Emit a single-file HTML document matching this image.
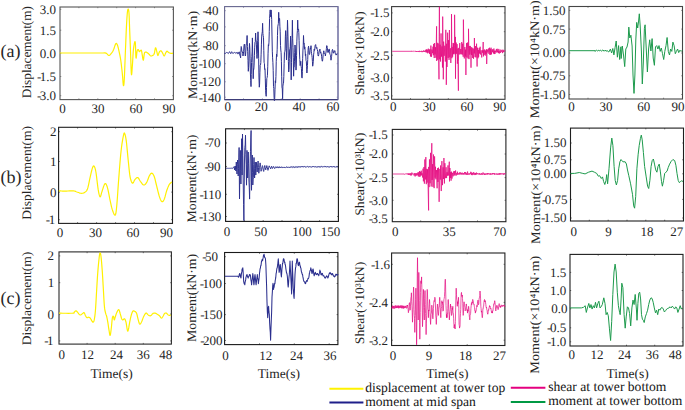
<!DOCTYPE html>
<html><head><meta charset="utf-8"><style>
html,body{margin:0;padding:0;background:#fff;}
body{width:685px;height:410px;overflow:hidden;}
svg{display:block;font-family:"Liberation Serif", serif;text-rendering:geometricPrecision;}
</style></head><body>
<svg width="685" height="410" viewBox="0 0 685 410" xmlns="http://www.w3.org/2000/svg">
<rect width="685" height="410" fill="#fff"/>
<line x1="78.9" y1="99.6" x2="78.9" y2="98.3" stroke="#555" stroke-width="0.6"/>
<line x1="78.9" y1="7.0" x2="78.9" y2="8.2" stroke="#555" stroke-width="0.6"/>
<line x1="97.8" y1="99.6" x2="97.8" y2="98.3" stroke="#555" stroke-width="0.6"/>
<line x1="97.8" y1="7.0" x2="97.8" y2="8.2" stroke="#555" stroke-width="0.6"/>
<line x1="116.7" y1="99.6" x2="116.7" y2="98.3" stroke="#555" stroke-width="0.6"/>
<line x1="116.7" y1="7.0" x2="116.7" y2="8.2" stroke="#555" stroke-width="0.6"/>
<line x1="135.6" y1="99.6" x2="135.6" y2="98.3" stroke="#555" stroke-width="0.6"/>
<line x1="135.6" y1="7.0" x2="135.6" y2="8.2" stroke="#555" stroke-width="0.6"/>
<line x1="154.5" y1="99.6" x2="154.5" y2="98.3" stroke="#555" stroke-width="0.6"/>
<line x1="154.5" y1="7.0" x2="154.5" y2="8.2" stroke="#555" stroke-width="0.6"/>
<line x1="60.0" y1="9.4" x2="61.3" y2="9.4" stroke="#555" stroke-width="0.6"/>
<line x1="173.4" y1="9.4" x2="172.1" y2="9.4" stroke="#555" stroke-width="0.6"/>
<line x1="60.0" y1="30.2" x2="61.3" y2="30.2" stroke="#555" stroke-width="0.6"/>
<line x1="173.4" y1="30.2" x2="172.1" y2="30.2" stroke="#555" stroke-width="0.6"/>
<line x1="60.0" y1="53.4" x2="61.3" y2="53.4" stroke="#555" stroke-width="0.6"/>
<line x1="173.4" y1="53.4" x2="172.1" y2="53.4" stroke="#555" stroke-width="0.6"/>
<line x1="60.0" y1="76.5" x2="61.3" y2="76.5" stroke="#555" stroke-width="0.6"/>
<line x1="173.4" y1="76.5" x2="172.1" y2="76.5" stroke="#555" stroke-width="0.6"/>
<line x1="60.0" y1="95.7" x2="61.3" y2="95.7" stroke="#555" stroke-width="0.6"/>
<line x1="173.4" y1="95.7" x2="172.1" y2="95.7" stroke="#555" stroke-width="0.6"/>
<rect x="60.0" y="7.0" width="113.4" height="92.6" fill="none" stroke="#555" stroke-width="1.1"/>
<line x1="243.5" y1="99.6" x2="243.5" y2="98.3" stroke="#66668f" stroke-width="0.6"/>
<line x1="243.5" y1="6.6" x2="243.5" y2="7.9" stroke="#66668f" stroke-width="0.6"/>
<line x1="262.4" y1="99.6" x2="262.4" y2="98.3" stroke="#66668f" stroke-width="0.6"/>
<line x1="262.4" y1="6.6" x2="262.4" y2="7.9" stroke="#66668f" stroke-width="0.6"/>
<line x1="281.3" y1="99.6" x2="281.3" y2="98.3" stroke="#66668f" stroke-width="0.6"/>
<line x1="281.3" y1="6.6" x2="281.3" y2="7.9" stroke="#66668f" stroke-width="0.6"/>
<line x1="300.2" y1="99.6" x2="300.2" y2="98.3" stroke="#66668f" stroke-width="0.6"/>
<line x1="300.2" y1="6.6" x2="300.2" y2="7.9" stroke="#66668f" stroke-width="0.6"/>
<line x1="319.1" y1="99.6" x2="319.1" y2="98.3" stroke="#66668f" stroke-width="0.6"/>
<line x1="319.1" y1="6.6" x2="319.1" y2="7.9" stroke="#66668f" stroke-width="0.6"/>
<line x1="224.6" y1="10.7" x2="225.9" y2="10.7" stroke="#66668f" stroke-width="0.6"/>
<line x1="338.0" y1="10.7" x2="336.7" y2="10.7" stroke="#66668f" stroke-width="0.6"/>
<line x1="224.6" y1="26.9" x2="225.9" y2="26.9" stroke="#66668f" stroke-width="0.6"/>
<line x1="338.0" y1="26.9" x2="336.7" y2="26.9" stroke="#66668f" stroke-width="0.6"/>
<line x1="224.6" y1="45.7" x2="225.9" y2="45.7" stroke="#66668f" stroke-width="0.6"/>
<line x1="338.0" y1="45.7" x2="336.7" y2="45.7" stroke="#66668f" stroke-width="0.6"/>
<line x1="224.6" y1="63.7" x2="225.9" y2="63.7" stroke="#66668f" stroke-width="0.6"/>
<line x1="338.0" y1="63.7" x2="336.7" y2="63.7" stroke="#66668f" stroke-width="0.6"/>
<line x1="224.6" y1="81.8" x2="225.9" y2="81.8" stroke="#66668f" stroke-width="0.6"/>
<line x1="338.0" y1="81.8" x2="336.7" y2="81.8" stroke="#66668f" stroke-width="0.6"/>
<line x1="224.6" y1="97.2" x2="225.9" y2="97.2" stroke="#66668f" stroke-width="0.6"/>
<line x1="338.0" y1="97.2" x2="336.7" y2="97.2" stroke="#66668f" stroke-width="0.6"/>
<rect x="224.6" y="6.6" width="113.4" height="93.0" fill="none" stroke="#66668f" stroke-width="1.1"/>
<line x1="410.5" y1="99.3" x2="410.5" y2="98.0" stroke="#3a3a3a" stroke-width="0.6"/>
<line x1="410.5" y1="6.6" x2="410.5" y2="7.9" stroke="#3a3a3a" stroke-width="0.6"/>
<line x1="429.4" y1="99.3" x2="429.4" y2="98.0" stroke="#3a3a3a" stroke-width="0.6"/>
<line x1="429.4" y1="6.6" x2="429.4" y2="7.9" stroke="#3a3a3a" stroke-width="0.6"/>
<line x1="448.3" y1="99.3" x2="448.3" y2="98.0" stroke="#3a3a3a" stroke-width="0.6"/>
<line x1="448.3" y1="6.6" x2="448.3" y2="7.9" stroke="#3a3a3a" stroke-width="0.6"/>
<line x1="467.2" y1="99.3" x2="467.2" y2="98.0" stroke="#3a3a3a" stroke-width="0.6"/>
<line x1="467.2" y1="6.6" x2="467.2" y2="7.9" stroke="#3a3a3a" stroke-width="0.6"/>
<line x1="486.1" y1="99.3" x2="486.1" y2="98.0" stroke="#3a3a3a" stroke-width="0.6"/>
<line x1="486.1" y1="6.6" x2="486.1" y2="7.9" stroke="#3a3a3a" stroke-width="0.6"/>
<line x1="391.6" y1="12.9" x2="392.9" y2="12.9" stroke="#3a3a3a" stroke-width="0.6"/>
<line x1="505.1" y1="12.9" x2="503.8" y2="12.9" stroke="#3a3a3a" stroke-width="0.6"/>
<line x1="391.6" y1="31.7" x2="392.9" y2="31.7" stroke="#3a3a3a" stroke-width="0.6"/>
<line x1="505.1" y1="31.7" x2="503.8" y2="31.7" stroke="#3a3a3a" stroke-width="0.6"/>
<line x1="391.6" y1="55.2" x2="392.9" y2="55.2" stroke="#3a3a3a" stroke-width="0.6"/>
<line x1="505.1" y1="55.2" x2="503.8" y2="55.2" stroke="#3a3a3a" stroke-width="0.6"/>
<line x1="391.6" y1="77.8" x2="392.9" y2="77.8" stroke="#3a3a3a" stroke-width="0.6"/>
<line x1="505.1" y1="77.8" x2="503.8" y2="77.8" stroke="#3a3a3a" stroke-width="0.6"/>
<line x1="391.6" y1="95.9" x2="392.9" y2="95.9" stroke="#3a3a3a" stroke-width="0.6"/>
<line x1="505.1" y1="95.9" x2="503.8" y2="95.9" stroke="#3a3a3a" stroke-width="0.6"/>
<rect x="391.6" y="6.6" width="113.4" height="92.7" fill="none" stroke="#3a3a3a" stroke-width="1.1"/>
<line x1="588.0" y1="99.0" x2="588.0" y2="97.7" stroke="#454545" stroke-width="0.6"/>
<line x1="588.0" y1="6.5" x2="588.0" y2="7.8" stroke="#454545" stroke-width="0.6"/>
<line x1="606.9" y1="99.0" x2="606.9" y2="97.7" stroke="#454545" stroke-width="0.6"/>
<line x1="606.9" y1="6.5" x2="606.9" y2="7.8" stroke="#454545" stroke-width="0.6"/>
<line x1="625.8" y1="99.0" x2="625.8" y2="97.7" stroke="#454545" stroke-width="0.6"/>
<line x1="625.8" y1="6.5" x2="625.8" y2="7.8" stroke="#454545" stroke-width="0.6"/>
<line x1="644.7" y1="99.0" x2="644.7" y2="97.7" stroke="#454545" stroke-width="0.6"/>
<line x1="644.7" y1="6.5" x2="644.7" y2="7.8" stroke="#454545" stroke-width="0.6"/>
<line x1="663.6" y1="99.0" x2="663.6" y2="97.7" stroke="#454545" stroke-width="0.6"/>
<line x1="663.6" y1="6.5" x2="663.6" y2="7.8" stroke="#454545" stroke-width="0.6"/>
<line x1="569.0" y1="10.4" x2="570.3" y2="10.4" stroke="#454545" stroke-width="0.6"/>
<line x1="682.5" y1="10.4" x2="681.2" y2="10.4" stroke="#454545" stroke-width="0.6"/>
<line x1="569.0" y1="29.1" x2="570.3" y2="29.1" stroke="#454545" stroke-width="0.6"/>
<line x1="682.5" y1="29.1" x2="681.2" y2="29.1" stroke="#454545" stroke-width="0.6"/>
<line x1="569.0" y1="53.0" x2="570.3" y2="53.0" stroke="#454545" stroke-width="0.6"/>
<line x1="682.5" y1="53.0" x2="681.2" y2="53.0" stroke="#454545" stroke-width="0.6"/>
<line x1="569.0" y1="75.8" x2="570.3" y2="75.8" stroke="#454545" stroke-width="0.6"/>
<line x1="682.5" y1="75.8" x2="681.2" y2="75.8" stroke="#454545" stroke-width="0.6"/>
<line x1="569.0" y1="94.5" x2="570.3" y2="94.5" stroke="#454545" stroke-width="0.6"/>
<line x1="682.5" y1="94.5" x2="681.2" y2="94.5" stroke="#454545" stroke-width="0.6"/>
<rect x="569.0" y="6.5" width="113.5" height="92.5" fill="none" stroke="#454545" stroke-width="1.1"/>
<line x1="77.6" y1="223.4" x2="77.6" y2="222.1" stroke="#1e1e1e" stroke-width="0.6"/>
<line x1="77.6" y1="127.3" x2="77.6" y2="128.6" stroke="#1e1e1e" stroke-width="0.6"/>
<line x1="96.6" y1="223.4" x2="96.6" y2="222.1" stroke="#1e1e1e" stroke-width="0.6"/>
<line x1="96.6" y1="127.3" x2="96.6" y2="128.6" stroke="#1e1e1e" stroke-width="0.6"/>
<line x1="115.6" y1="223.4" x2="115.6" y2="222.1" stroke="#1e1e1e" stroke-width="0.6"/>
<line x1="115.6" y1="127.3" x2="115.6" y2="128.6" stroke="#1e1e1e" stroke-width="0.6"/>
<line x1="134.5" y1="223.4" x2="134.5" y2="222.1" stroke="#1e1e1e" stroke-width="0.6"/>
<line x1="134.5" y1="127.3" x2="134.5" y2="128.6" stroke="#1e1e1e" stroke-width="0.6"/>
<line x1="153.5" y1="223.4" x2="153.5" y2="222.1" stroke="#1e1e1e" stroke-width="0.6"/>
<line x1="153.5" y1="127.3" x2="153.5" y2="128.6" stroke="#1e1e1e" stroke-width="0.6"/>
<line x1="58.6" y1="131.7" x2="59.9" y2="131.7" stroke="#1e1e1e" stroke-width="0.6"/>
<line x1="172.5" y1="131.7" x2="171.2" y2="131.7" stroke="#1e1e1e" stroke-width="0.6"/>
<line x1="58.6" y1="161.5" x2="59.9" y2="161.5" stroke="#1e1e1e" stroke-width="0.6"/>
<line x1="172.5" y1="161.5" x2="171.2" y2="161.5" stroke="#1e1e1e" stroke-width="0.6"/>
<line x1="58.6" y1="192.1" x2="59.9" y2="192.1" stroke="#1e1e1e" stroke-width="0.6"/>
<line x1="172.5" y1="192.1" x2="171.2" y2="192.1" stroke="#1e1e1e" stroke-width="0.6"/>
<line x1="58.6" y1="219.7" x2="59.9" y2="219.7" stroke="#1e1e1e" stroke-width="0.6"/>
<line x1="172.5" y1="219.7" x2="171.2" y2="219.7" stroke="#1e1e1e" stroke-width="0.6"/>
<rect x="58.6" y="127.3" width="113.9" height="96.1" fill="none" stroke="#1e1e1e" stroke-width="1.1"/>
<line x1="244.4" y1="221.4" x2="244.4" y2="220.1" stroke="#141414" stroke-width="0.6"/>
<line x1="244.4" y1="128.8" x2="244.4" y2="130.1" stroke="#141414" stroke-width="0.6"/>
<line x1="263.2" y1="221.4" x2="263.2" y2="220.1" stroke="#141414" stroke-width="0.6"/>
<line x1="263.2" y1="128.8" x2="263.2" y2="130.1" stroke="#141414" stroke-width="0.6"/>
<line x1="282.0" y1="221.4" x2="282.0" y2="220.1" stroke="#141414" stroke-width="0.6"/>
<line x1="282.0" y1="128.8" x2="282.0" y2="130.1" stroke="#141414" stroke-width="0.6"/>
<line x1="300.8" y1="221.4" x2="300.8" y2="220.1" stroke="#141414" stroke-width="0.6"/>
<line x1="300.8" y1="128.8" x2="300.8" y2="130.1" stroke="#141414" stroke-width="0.6"/>
<line x1="319.6" y1="221.4" x2="319.6" y2="220.1" stroke="#141414" stroke-width="0.6"/>
<line x1="319.6" y1="128.8" x2="319.6" y2="130.1" stroke="#141414" stroke-width="0.6"/>
<line x1="225.6" y1="143.0" x2="226.9" y2="143.0" stroke="#141414" stroke-width="0.6"/>
<line x1="338.4" y1="143.0" x2="337.1" y2="143.0" stroke="#141414" stroke-width="0.6"/>
<line x1="225.6" y1="166.5" x2="226.9" y2="166.5" stroke="#141414" stroke-width="0.6"/>
<line x1="338.4" y1="166.5" x2="337.1" y2="166.5" stroke="#141414" stroke-width="0.6"/>
<line x1="225.6" y1="194.3" x2="226.9" y2="194.3" stroke="#141414" stroke-width="0.6"/>
<line x1="338.4" y1="194.3" x2="337.1" y2="194.3" stroke="#141414" stroke-width="0.6"/>
<line x1="225.6" y1="216.5" x2="226.9" y2="216.5" stroke="#141414" stroke-width="0.6"/>
<line x1="338.4" y1="216.5" x2="337.1" y2="216.5" stroke="#141414" stroke-width="0.6"/>
<rect x="225.6" y="128.8" width="112.8" height="92.6" fill="none" stroke="#141414" stroke-width="1.1"/>
<line x1="420.7" y1="221.7" x2="420.7" y2="220.4" stroke="#222" stroke-width="0.6"/>
<line x1="420.7" y1="129.4" x2="420.7" y2="130.7" stroke="#222" stroke-width="0.6"/>
<line x1="449.1" y1="221.7" x2="449.1" y2="220.4" stroke="#222" stroke-width="0.6"/>
<line x1="449.1" y1="129.4" x2="449.1" y2="130.7" stroke="#222" stroke-width="0.6"/>
<line x1="477.5" y1="221.7" x2="477.5" y2="220.4" stroke="#222" stroke-width="0.6"/>
<line x1="477.5" y1="129.4" x2="477.5" y2="130.7" stroke="#222" stroke-width="0.6"/>
<line x1="392.3" y1="135.0" x2="393.6" y2="135.0" stroke="#222" stroke-width="0.6"/>
<line x1="505.9" y1="135.0" x2="504.6" y2="135.0" stroke="#222" stroke-width="0.6"/>
<line x1="392.3" y1="154.0" x2="393.6" y2="154.0" stroke="#222" stroke-width="0.6"/>
<line x1="505.9" y1="154.0" x2="504.6" y2="154.0" stroke="#222" stroke-width="0.6"/>
<line x1="392.3" y1="177.6" x2="393.6" y2="177.6" stroke="#222" stroke-width="0.6"/>
<line x1="505.9" y1="177.6" x2="504.6" y2="177.6" stroke="#222" stroke-width="0.6"/>
<line x1="392.3" y1="200.3" x2="393.6" y2="200.3" stroke="#222" stroke-width="0.6"/>
<line x1="505.9" y1="200.3" x2="504.6" y2="200.3" stroke="#222" stroke-width="0.6"/>
<line x1="392.3" y1="218.2" x2="393.6" y2="218.2" stroke="#222" stroke-width="0.6"/>
<line x1="505.9" y1="218.2" x2="504.6" y2="218.2" stroke="#222" stroke-width="0.6"/>
<rect x="392.3" y="129.4" width="113.6" height="92.3" fill="none" stroke="#222" stroke-width="1.1"/>
<line x1="589.3" y1="221.0" x2="589.3" y2="219.7" stroke="#1e1e1e" stroke-width="0.6"/>
<line x1="589.3" y1="128.1" x2="589.3" y2="129.4" stroke="#1e1e1e" stroke-width="0.6"/>
<line x1="608.2" y1="221.0" x2="608.2" y2="219.7" stroke="#1e1e1e" stroke-width="0.6"/>
<line x1="608.2" y1="128.1" x2="608.2" y2="129.4" stroke="#1e1e1e" stroke-width="0.6"/>
<line x1="627.0" y1="221.0" x2="627.0" y2="219.7" stroke="#1e1e1e" stroke-width="0.6"/>
<line x1="627.0" y1="128.1" x2="627.0" y2="129.4" stroke="#1e1e1e" stroke-width="0.6"/>
<line x1="645.8" y1="221.0" x2="645.8" y2="219.7" stroke="#1e1e1e" stroke-width="0.6"/>
<line x1="645.8" y1="128.1" x2="645.8" y2="129.4" stroke="#1e1e1e" stroke-width="0.6"/>
<line x1="664.7" y1="221.0" x2="664.7" y2="219.7" stroke="#1e1e1e" stroke-width="0.6"/>
<line x1="664.7" y1="128.1" x2="664.7" y2="129.4" stroke="#1e1e1e" stroke-width="0.6"/>
<line x1="570.5" y1="143.0" x2="571.8" y2="143.0" stroke="#1e1e1e" stroke-width="0.6"/>
<line x1="683.5" y1="143.0" x2="682.2" y2="143.0" stroke="#1e1e1e" stroke-width="0.6"/>
<line x1="570.5" y1="159.8" x2="571.8" y2="159.8" stroke="#1e1e1e" stroke-width="0.6"/>
<line x1="683.5" y1="159.8" x2="682.2" y2="159.8" stroke="#1e1e1e" stroke-width="0.6"/>
<line x1="570.5" y1="173.8" x2="571.8" y2="173.8" stroke="#1e1e1e" stroke-width="0.6"/>
<line x1="683.5" y1="173.8" x2="682.2" y2="173.8" stroke="#1e1e1e" stroke-width="0.6"/>
<line x1="570.5" y1="199.4" x2="571.8" y2="199.4" stroke="#1e1e1e" stroke-width="0.6"/>
<line x1="683.5" y1="199.4" x2="682.2" y2="199.4" stroke="#1e1e1e" stroke-width="0.6"/>
<line x1="570.5" y1="218.0" x2="571.8" y2="218.0" stroke="#1e1e1e" stroke-width="0.6"/>
<line x1="683.5" y1="218.0" x2="682.2" y2="218.0" stroke="#1e1e1e" stroke-width="0.6"/>
<rect x="570.5" y="128.1" width="113.0" height="92.9" fill="none" stroke="#1e1e1e" stroke-width="1.1"/>
<line x1="87.1" y1="344.2" x2="87.1" y2="342.9" stroke="#2a2a2a" stroke-width="0.6"/>
<line x1="87.1" y1="251.9" x2="87.1" y2="253.2" stroke="#2a2a2a" stroke-width="0.6"/>
<line x1="115.2" y1="344.2" x2="115.2" y2="342.9" stroke="#2a2a2a" stroke-width="0.6"/>
<line x1="115.2" y1="251.9" x2="115.2" y2="253.2" stroke="#2a2a2a" stroke-width="0.6"/>
<line x1="143.3" y1="344.2" x2="143.3" y2="342.9" stroke="#2a2a2a" stroke-width="0.6"/>
<line x1="143.3" y1="251.9" x2="143.3" y2="253.2" stroke="#2a2a2a" stroke-width="0.6"/>
<line x1="59.0" y1="255.9" x2="60.3" y2="255.9" stroke="#2a2a2a" stroke-width="0.6"/>
<line x1="171.4" y1="255.9" x2="170.1" y2="255.9" stroke="#2a2a2a" stroke-width="0.6"/>
<line x1="59.0" y1="282.7" x2="60.3" y2="282.7" stroke="#2a2a2a" stroke-width="0.6"/>
<line x1="171.4" y1="282.7" x2="170.1" y2="282.7" stroke="#2a2a2a" stroke-width="0.6"/>
<line x1="59.0" y1="314.1" x2="60.3" y2="314.1" stroke="#2a2a2a" stroke-width="0.6"/>
<line x1="171.4" y1="314.1" x2="170.1" y2="314.1" stroke="#2a2a2a" stroke-width="0.6"/>
<line x1="59.0" y1="340.9" x2="60.3" y2="340.9" stroke="#2a2a2a" stroke-width="0.6"/>
<line x1="171.4" y1="340.9" x2="170.1" y2="340.9" stroke="#2a2a2a" stroke-width="0.6"/>
<rect x="59.0" y="251.9" width="112.4" height="92.2" fill="none" stroke="#2a2a2a" stroke-width="1.1"/>
<line x1="259.5" y1="344.6" x2="259.5" y2="343.3" stroke="#1a1a1a" stroke-width="0.6"/>
<line x1="259.5" y1="252.5" x2="259.5" y2="253.8" stroke="#1a1a1a" stroke-width="0.6"/>
<line x1="294.3" y1="344.6" x2="294.3" y2="343.3" stroke="#1a1a1a" stroke-width="0.6"/>
<line x1="294.3" y1="252.5" x2="294.3" y2="253.8" stroke="#1a1a1a" stroke-width="0.6"/>
<line x1="329.2" y1="344.6" x2="329.2" y2="343.3" stroke="#1a1a1a" stroke-width="0.6"/>
<line x1="329.2" y1="252.5" x2="329.2" y2="253.8" stroke="#1a1a1a" stroke-width="0.6"/>
<line x1="224.6" y1="256.7" x2="225.9" y2="256.7" stroke="#1a1a1a" stroke-width="0.6"/>
<line x1="337.9" y1="256.7" x2="336.6" y2="256.7" stroke="#1a1a1a" stroke-width="0.6"/>
<line x1="224.6" y1="283.5" x2="225.9" y2="283.5" stroke="#1a1a1a" stroke-width="0.6"/>
<line x1="337.9" y1="283.5" x2="336.6" y2="283.5" stroke="#1a1a1a" stroke-width="0.6"/>
<line x1="224.6" y1="314.6" x2="225.9" y2="314.6" stroke="#1a1a1a" stroke-width="0.6"/>
<line x1="337.9" y1="314.6" x2="336.6" y2="314.6" stroke="#1a1a1a" stroke-width="0.6"/>
<line x1="224.6" y1="340.5" x2="225.9" y2="340.5" stroke="#1a1a1a" stroke-width="0.6"/>
<line x1="337.9" y1="340.5" x2="336.6" y2="340.5" stroke="#1a1a1a" stroke-width="0.6"/>
<rect x="224.6" y="252.5" width="113.3" height="92.1" fill="none" stroke="#1a1a1a" stroke-width="1.1"/>
<line x1="429.4" y1="345.5" x2="429.4" y2="344.2" stroke="#222" stroke-width="0.6"/>
<line x1="429.4" y1="253.0" x2="429.4" y2="254.3" stroke="#222" stroke-width="0.6"/>
<line x1="467.2" y1="345.5" x2="467.2" y2="344.2" stroke="#222" stroke-width="0.6"/>
<line x1="467.2" y1="253.0" x2="467.2" y2="254.3" stroke="#222" stroke-width="0.6"/>
<line x1="391.6" y1="264.3" x2="392.9" y2="264.3" stroke="#222" stroke-width="0.6"/>
<line x1="504.9" y1="264.3" x2="503.6" y2="264.3" stroke="#222" stroke-width="0.6"/>
<line x1="391.6" y1="302.4" x2="392.9" y2="302.4" stroke="#222" stroke-width="0.6"/>
<line x1="504.9" y1="302.4" x2="503.6" y2="302.4" stroke="#222" stroke-width="0.6"/>
<line x1="391.6" y1="340.2" x2="392.9" y2="340.2" stroke="#222" stroke-width="0.6"/>
<line x1="504.9" y1="340.2" x2="503.6" y2="340.2" stroke="#222" stroke-width="0.6"/>
<rect x="391.6" y="253.0" width="113.3" height="92.5" fill="none" stroke="#222" stroke-width="1.1"/>
<line x1="598.2" y1="346.0" x2="598.2" y2="344.7" stroke="#1e1e1e" stroke-width="0.6"/>
<line x1="598.2" y1="254.4" x2="598.2" y2="255.7" stroke="#1e1e1e" stroke-width="0.6"/>
<line x1="626.5" y1="346.0" x2="626.5" y2="344.7" stroke="#1e1e1e" stroke-width="0.6"/>
<line x1="626.5" y1="254.4" x2="626.5" y2="255.7" stroke="#1e1e1e" stroke-width="0.6"/>
<line x1="654.7" y1="346.0" x2="654.7" y2="344.7" stroke="#1e1e1e" stroke-width="0.6"/>
<line x1="654.7" y1="254.4" x2="654.7" y2="255.7" stroke="#1e1e1e" stroke-width="0.6"/>
<line x1="570.0" y1="272.4" x2="571.2" y2="272.4" stroke="#1e1e1e" stroke-width="0.6"/>
<line x1="683.0" y1="272.4" x2="681.7" y2="272.4" stroke="#1e1e1e" stroke-width="0.6"/>
<line x1="570.0" y1="290.5" x2="571.2" y2="290.5" stroke="#1e1e1e" stroke-width="0.6"/>
<line x1="683.0" y1="290.5" x2="681.7" y2="290.5" stroke="#1e1e1e" stroke-width="0.6"/>
<line x1="570.0" y1="308.8" x2="571.2" y2="308.8" stroke="#1e1e1e" stroke-width="0.6"/>
<line x1="683.0" y1="308.8" x2="681.7" y2="308.8" stroke="#1e1e1e" stroke-width="0.6"/>
<line x1="570.0" y1="327.8" x2="571.2" y2="327.8" stroke="#1e1e1e" stroke-width="0.6"/>
<line x1="683.0" y1="327.8" x2="681.7" y2="327.8" stroke="#1e1e1e" stroke-width="0.6"/>
<line x1="570.0" y1="341.8" x2="571.2" y2="341.8" stroke="#1e1e1e" stroke-width="0.6"/>
<line x1="683.0" y1="341.8" x2="681.7" y2="341.8" stroke="#1e1e1e" stroke-width="0.6"/>
<rect x="570.0" y="254.4" width="113.0" height="91.6" fill="none" stroke="#1e1e1e" stroke-width="1.1"/>
<text x="56.1" y="13.8" font-size="13" text-anchor="end" fill="#262626" >3.0</text>
<text x="56.1" y="34.6" font-size="13" text-anchor="end" fill="#262626" >1.5</text>
<text x="56.1" y="57.8" font-size="13" text-anchor="end" fill="#262626" >0.0</text>
<text x="56.1" y="80.9" font-size="13" text-anchor="end" fill="#262626" >-<tspan dx="-1.5">1.5</tspan></text>
<text x="56.1" y="100.1" font-size="13" text-anchor="end" fill="#262626" >-<tspan dx="-1.5">3.0</tspan></text>
<text x="218.4" y="15.1" font-size="13" text-anchor="end" fill="#262626" >-<tspan dx="-1.5">40</tspan></text>
<text x="218.4" y="31.3" font-size="13" text-anchor="end" fill="#262626" >-<tspan dx="-1.5">60</tspan></text>
<text x="218.4" y="50.1" font-size="13" text-anchor="end" fill="#262626" >-<tspan dx="-1.5">80</tspan></text>
<text x="221.1" y="68.1" font-size="13" text-anchor="end" fill="#262626" >-<tspan dx="-1.5">100</tspan></text>
<text x="221.1" y="86.2" font-size="13" text-anchor="end" fill="#262626" >-<tspan dx="-1.5">120</tspan></text>
<text x="221.1" y="101.6" font-size="13" text-anchor="end" fill="#262626" >-<tspan dx="-1.5">140</tspan></text>
<text x="389.4" y="17.3" font-size="13" text-anchor="end" fill="#262626" >-<tspan dx="-1.5">1.5</tspan></text>
<text x="389.4" y="36.1" font-size="13" text-anchor="end" fill="#262626" >-<tspan dx="-1.5">2.0</tspan></text>
<text x="389.4" y="59.6" font-size="13" text-anchor="end" fill="#262626" >-<tspan dx="-1.5">2.5</tspan></text>
<text x="389.4" y="82.2" font-size="13" text-anchor="end" fill="#262626" >-<tspan dx="-1.5">3.0</tspan></text>
<text x="389.4" y="100.3" font-size="13" text-anchor="end" fill="#262626" >-<tspan dx="-1.5">3.5</tspan></text>
<text x="565.6" y="14.8" font-size="13" text-anchor="end" fill="#262626" >1.50</text>
<text x="565.6" y="33.5" font-size="13" text-anchor="end" fill="#262626" >0.75</text>
<text x="565.6" y="57.4" font-size="13" text-anchor="end" fill="#262626" >0.00</text>
<text x="565.6" y="80.2" font-size="13" text-anchor="end" fill="#262626" >-<tspan dx="-1.5">0.75</tspan></text>
<text x="565.6" y="98.9" font-size="13" text-anchor="end" fill="#262626" >-<tspan dx="-1.5">1.50</tspan></text>
<text x="56.4" y="136.1" font-size="13" text-anchor="end" fill="#262626" >2</text>
<text x="56.4" y="165.9" font-size="13" text-anchor="end" fill="#262626" >1</text>
<text x="56.4" y="196.5" font-size="13" text-anchor="end" fill="#262626" >0</text>
<text x="55.2" y="224.1" font-size="13" text-anchor="end" fill="#262626" >-<tspan dx="-1.5">1</tspan></text>
<text x="220.6" y="147.4" font-size="13" text-anchor="end" fill="#262626" >-<tspan dx="-1.5">70</tspan></text>
<text x="220.4" y="170.9" font-size="13" text-anchor="end" fill="#262626" >-<tspan dx="-1.5">90</tspan></text>
<text x="221.3" y="198.7" font-size="13" text-anchor="end" fill="#262626" >-<tspan dx="-1.5">110</tspan></text>
<text x="221.3" y="220.9" font-size="13" text-anchor="end" fill="#262626" >-<tspan dx="-1.5">130</tspan></text>
<text x="387.8" y="139.4" font-size="13" text-anchor="end" fill="#262626" >-<tspan dx="-1.5">1.5</tspan></text>
<text x="387.8" y="158.4" font-size="13" text-anchor="end" fill="#262626" >-<tspan dx="-1.5">2.0</tspan></text>
<text x="387.8" y="182.0" font-size="13" text-anchor="end" fill="#262626" >-<tspan dx="-1.5">2.5</tspan></text>
<text x="387.8" y="204.7" font-size="13" text-anchor="end" fill="#262626" >-<tspan dx="-1.5">3.0</tspan></text>
<text x="387.8" y="222.6" font-size="13" text-anchor="end" fill="#262626" >-<tspan dx="-1.5">3.5</tspan></text>
<text x="566.6" y="147.4" font-size="13" text-anchor="end" fill="#262626" >1.50</text>
<text x="566.6" y="164.2" font-size="13" text-anchor="end" fill="#262626" >0.75</text>
<text x="566.6" y="178.2" font-size="13" text-anchor="end" fill="#262626" >0.00</text>
<text x="567.6" y="203.8" font-size="13" text-anchor="end" fill="#262626" >-<tspan dx="-1.5">0.75</tspan></text>
<text x="566.6" y="222.4" font-size="13" text-anchor="end" fill="#262626" >-<tspan dx="-1.5">1.50</tspan></text>
<text x="54.0" y="260.3" font-size="13" text-anchor="end" fill="#262626" >2</text>
<text x="54.3" y="287.1" font-size="13" text-anchor="end" fill="#262626" >1</text>
<text x="54.0" y="318.5" font-size="13" text-anchor="end" fill="#262626" >0</text>
<text x="53.6" y="345.3" font-size="13" text-anchor="end" fill="#262626" >-<tspan dx="-1.5">1</tspan></text>
<text x="218.0" y="261.1" font-size="13" text-anchor="end" fill="#262626" >-<tspan dx="-1.5">50</tspan></text>
<text x="222.0" y="287.9" font-size="13" text-anchor="end" fill="#262626" >-<tspan dx="-1.5">100</tspan></text>
<text x="222.5" y="319.0" font-size="13" text-anchor="end" fill="#262626" >-<tspan dx="-1.5">150</tspan></text>
<text x="222.5" y="344.9" font-size="13" text-anchor="end" fill="#262626" >-<tspan dx="-1.5">200</tspan></text>
<text x="390.0" y="268.7" font-size="13" text-anchor="end" fill="#262626" >-<tspan dx="-1.5">1.6</tspan></text>
<text x="388.0" y="306.8" font-size="13" text-anchor="end" fill="#262626" >-<tspan dx="-1.5">2.4</tspan></text>
<text x="388.0" y="344.6" font-size="13" text-anchor="end" fill="#262626" >-<tspan dx="-1.5">3.2</tspan></text>
<text x="566.2" y="276.8" font-size="13" text-anchor="end" fill="#262626" >1.5</text>
<text x="566.2" y="294.9" font-size="13" text-anchor="end" fill="#262626" >1.0</text>
<text x="567.5" y="313.2" font-size="13" text-anchor="end" fill="#262626" >0.0</text>
<text x="566.2" y="332.2" font-size="13" text-anchor="end" fill="#262626" >-<tspan dx="-1.5">0.5</tspan></text>
<text x="566.2" y="346.2" font-size="13" text-anchor="end" fill="#262626" >-<tspan dx="-1.5">1.0</tspan></text>
<text x="62.5" y="112.5" font-size="13" text-anchor="middle" fill="#262626" >0</text>
<text x="98.1" y="112.5" font-size="13" text-anchor="middle" fill="#262626" >30</text>
<text x="135.9" y="112.5" font-size="13" text-anchor="middle" fill="#262626" >60</text>
<text x="169.0" y="112.5" font-size="13" text-anchor="middle" fill="#262626" >90</text>
<text x="227.7" y="110.8" font-size="13" text-anchor="middle" fill="#262626" >0</text>
<text x="261.2" y="110.8" font-size="13" text-anchor="middle" fill="#262626" >20</text>
<text x="299.0" y="110.8" font-size="13" text-anchor="middle" fill="#262626" >40</text>
<text x="333.1" y="110.8" font-size="13" text-anchor="middle" fill="#262626" >60</text>
<text x="393.3" y="111.1" font-size="13" text-anchor="middle" fill="#262626" >0</text>
<text x="429.2" y="111.1" font-size="13" text-anchor="middle" fill="#262626" >30</text>
<text x="467.1" y="111.1" font-size="13" text-anchor="middle" fill="#262626" >60</text>
<text x="499.7" y="111.1" font-size="13" text-anchor="middle" fill="#262626" >90</text>
<text x="571.5" y="111.1" font-size="13" text-anchor="middle" fill="#262626" >0</text>
<text x="606.0" y="111.1" font-size="13" text-anchor="middle" fill="#262626" >30</text>
<text x="643.7" y="111.1" font-size="13" text-anchor="middle" fill="#262626" >60</text>
<text x="677.9" y="111.1" font-size="13" text-anchor="middle" fill="#262626" >90</text>
<text x="60.1" y="237.0" font-size="13" text-anchor="middle" fill="#262626" >0</text>
<text x="95.4" y="237.0" font-size="13" text-anchor="middle" fill="#262626" >30</text>
<text x="133.0" y="237.0" font-size="13" text-anchor="middle" fill="#262626" >60</text>
<text x="166.4" y="237.0" font-size="13" text-anchor="middle" fill="#262626" >90</text>
<text x="227.1" y="236.3" font-size="13" text-anchor="middle" fill="#262626" >0</text>
<text x="260.7" y="236.3" font-size="13" text-anchor="middle" fill="#262626" >50</text>
<text x="302.0" y="236.3" font-size="13" text-anchor="middle" fill="#262626" >100</text>
<text x="330.5" y="236.3" font-size="13" text-anchor="middle" fill="#262626" >150</text>
<text x="395.2" y="236.3" font-size="13" text-anchor="middle" fill="#262626" >0</text>
<text x="449.3" y="236.3" font-size="13" text-anchor="middle" fill="#262626" >35</text>
<text x="499.7" y="236.3" font-size="13" text-anchor="middle" fill="#262626" >70</text>
<text x="573.7" y="235.5" font-size="13" text-anchor="middle" fill="#262626" >0</text>
<text x="608.4" y="235.5" font-size="13" text-anchor="middle" fill="#262626" >9</text>
<text x="647.0" y="235.5" font-size="13" text-anchor="middle" fill="#262626" >18</text>
<text x="676.8" y="235.5" font-size="13" text-anchor="middle" fill="#262626" >27</text>
<text x="61.7" y="359.3" font-size="13" text-anchor="middle" fill="#262626" >0</text>
<text x="87.5" y="359.3" font-size="13" text-anchor="middle" fill="#262626" >12</text>
<text x="116.4" y="359.3" font-size="13" text-anchor="middle" fill="#262626" >24</text>
<text x="143.3" y="359.3" font-size="13" text-anchor="middle" fill="#262626" >36</text>
<text x="165.8" y="359.3" font-size="13" text-anchor="middle" fill="#262626" >48</text>
<text x="225.6" y="359.8" font-size="13" text-anchor="middle" fill="#262626" >0</text>
<text x="265.8" y="359.8" font-size="13" text-anchor="middle" fill="#262626" >12</text>
<text x="296.6" y="359.8" font-size="13" text-anchor="middle" fill="#262626" >24</text>
<text x="330.0" y="359.8" font-size="13" text-anchor="middle" fill="#262626" >36</text>
<text x="393.0" y="360.4" font-size="13" text-anchor="middle" fill="#262626" >0</text>
<text x="428.9" y="360.4" font-size="13" text-anchor="middle" fill="#262626" >9</text>
<text x="465.4" y="360.4" font-size="13" text-anchor="middle" fill="#262626" >18</text>
<text x="499.6" y="360.4" font-size="13" text-anchor="middle" fill="#262626" >27</text>
<text x="571.8" y="358.7" font-size="13" text-anchor="middle" fill="#262626" >0</text>
<text x="597.0" y="358.7" font-size="13" text-anchor="middle" fill="#262626" >12</text>
<text x="624.5" y="358.7" font-size="13" text-anchor="middle" fill="#262626" >24</text>
<text x="652.3" y="358.7" font-size="13" text-anchor="middle" fill="#262626" >36</text>
<text x="675.3" y="358.7" font-size="13" text-anchor="middle" fill="#262626" >48</text>
<text x="0" y="0" font-size="13" text-anchor="middle" fill="#262626" textLength="92.2" lengthAdjust="spacingAndGlyphs" transform="translate(31.1,52.1) rotate(-90)">Displacement(m)</text>
<text x="0" y="0" font-size="13" text-anchor="middle" fill="#262626" textLength="88.2" lengthAdjust="spacingAndGlyphs" transform="translate(196.5,55.0) rotate(-90)">Moment(kN·m)</text>
<text x="0" y="0" font-size="13" text-anchor="middle" fill="#262626" textLength="83.9" lengthAdjust="spacingAndGlyphs" transform="translate(364.2,53.3) rotate(-90)">Shear(×10³kN)</text>
<text x="0" y="0" font-size="13" text-anchor="middle" fill="#262626" textLength="117.9" lengthAdjust="spacingAndGlyphs" transform="translate(539.2,59.2) rotate(-90)">Moment(×10⁴kN·m)</text>
<text x="0" y="0" font-size="13" text-anchor="middle" fill="#262626" textLength="93.7" lengthAdjust="spacingAndGlyphs" transform="translate(31.2,172.8) rotate(-90)">Displacement(m)</text>
<text x="0" y="0" font-size="13" text-anchor="middle" fill="#262626" textLength="87.8" lengthAdjust="spacingAndGlyphs" transform="translate(196.0,178.5) rotate(-90)">Moment(kN·m)</text>
<text x="0" y="0" font-size="13" text-anchor="middle" fill="#262626" textLength="83.1" lengthAdjust="spacingAndGlyphs" transform="translate(363.8,174.3) rotate(-90)">Shear(×10³kN)</text>
<text x="0" y="0" font-size="13" text-anchor="middle" fill="#262626" textLength="118.4" lengthAdjust="spacingAndGlyphs" transform="translate(539.8,184.8) rotate(-90)">Moment(×10⁴kN·m)</text>
<text x="0" y="0" font-size="13" text-anchor="middle" fill="#262626" textLength="93.7" lengthAdjust="spacingAndGlyphs" transform="translate(31.1,298.5) rotate(-90)">Displacement(m)</text>
<text x="0" y="0" font-size="13" text-anchor="middle" fill="#262626" textLength="88.2" lengthAdjust="spacingAndGlyphs" transform="translate(196.0,297.9) rotate(-90)">Moment(kN·m)</text>
<text x="0" y="0" font-size="13" text-anchor="middle" fill="#262626" textLength="82.4" lengthAdjust="spacingAndGlyphs" transform="translate(364.0,303.0) rotate(-90)">Shear(×10³kN)</text>
<text x="0" y="0" font-size="13" text-anchor="middle" fill="#262626" textLength="118.0" lengthAdjust="spacingAndGlyphs" transform="translate(539.4,314.7) rotate(-90)">Moment(×10⁴kN·m)</text>
<text x="0.5" y="56.9" font-size="18" text-anchor="start" fill="#262626" >(a)</text>
<text x="0.5" y="182.6" font-size="18" text-anchor="start" fill="#262626" >(b)</text>
<text x="0.5" y="303.9" font-size="18" text-anchor="start" fill="#262626" >(c)</text>
<text x="111.6" y="378.0" font-size="13.5" text-anchor="middle" fill="#262626" >Time(s)</text>
<text x="278.8" y="378.0" font-size="13.5" text-anchor="middle" fill="#262626" >Time(s)</text>
<text x="447.4" y="378.0" font-size="13.5" text-anchor="middle" fill="#262626" >Time(s)</text>
<text x="627.7" y="378.0" font-size="13.5" text-anchor="middle" fill="#262626" >Time(s)</text>
<line x1="329.4" y1="388.8" x2="363.4" y2="388.8" stroke="#fff200" stroke-width="2"/>
<line x1="329.4" y1="402.5" x2="363.4" y2="402.5" stroke="#1f1f8a" stroke-width="2.2"/>
<line x1="510.8" y1="387.8" x2="545.4" y2="387.8" stroke="#e4007f" stroke-width="2"/>
<line x1="510.8" y1="401.9" x2="545.4" y2="401.9" stroke="#009944" stroke-width="2"/>
<text x="365.2" y="392.4" font-size="13.6" text-anchor="start" fill="#141414" >displacement at tower top</text>
<text x="365.2" y="405.7" font-size="13.6" text-anchor="start" fill="#141414" >moment at mid span</text>
<text x="548.2" y="391.0" font-size="13.6" text-anchor="start" fill="#141414" >shear at tower bottom</text>
<text x="548.2" y="404.8" font-size="13.6" text-anchor="start" fill="#141414" >moment at tower bottom</text>
<polyline points="59.60,53.00 64.40,53.00 71.36,53.00 79.44,52.99 87.60,52.99 94.80,52.99 100.00,53.00 103.00,52.99 104.60,52.94 105.24,52.91 105.36,52.90 105.40,52.95 105.80,53.10 106.47,53.40 107.03,53.86 107.52,54.37 107.96,54.86 108.37,55.23 108.80,55.40 109.22,55.36 109.62,55.17 109.99,54.86 110.36,54.48 110.72,54.05 111.10,53.60 111.48,53.15 111.87,52.66 112.25,52.13 112.63,51.54 113.02,50.87 113.40,50.10 113.79,49.13 114.19,47.94 114.59,46.67 114.99,45.46 115.36,44.46 115.70,43.80 116.01,43.48 116.28,43.39 116.54,43.51 116.79,43.80 117.04,44.24 117.30,44.80 117.58,45.52 117.86,46.43 118.14,47.48 118.42,48.65 118.71,49.90 119.00,51.20 119.30,52.53 119.60,53.91 119.91,55.38 120.21,56.95 120.51,58.65 120.80,60.50 121.09,62.58 121.37,64.90 121.65,67.34 121.92,69.80 122.17,72.19 122.40,74.40 122.60,76.62 122.78,78.96 122.94,81.23 123.10,83.21 123.25,84.70 123.40,85.50 123.55,85.68 123.70,85.43 123.84,84.68 123.99,83.40 124.14,81.52 124.30,79.00 124.47,75.60 124.65,71.31 124.83,66.43 125.02,61.25 125.21,56.07 125.40,51.20 125.60,46.41 125.80,41.43 126.00,36.45 126.20,31.67 126.40,27.29 126.60,23.50 126.79,20.26 126.97,17.41 127.15,14.96 127.33,12.91 127.51,11.29 127.70,10.10 127.90,9.35 128.11,9.04 128.33,9.15 128.53,9.67 128.73,10.59 128.90,11.90 129.04,13.69 129.16,15.98 129.27,18.67 129.37,21.66 129.48,24.83 129.60,28.10 129.74,31.55 129.89,35.29 130.04,39.21 130.19,43.24 130.35,47.26 130.50,51.20 130.65,55.44 130.80,60.13 130.94,64.83 131.09,69.07 131.24,72.41 131.40,74.40 131.56,74.81 131.72,73.96 131.89,72.21 132.06,69.91 132.23,67.43 132.40,65.10 132.57,62.69 132.74,59.87 132.91,56.86 133.09,53.88 133.28,51.15 133.50,48.90 133.76,46.92 134.06,45.00 134.37,43.33 134.68,42.10 134.96,41.53 135.20,41.80 135.38,43.42 135.52,46.33 135.64,49.88 135.74,53.44 135.86,56.36 136.00,58.00 136.17,58.14 136.34,57.25 136.53,55.72 136.72,53.94 136.91,52.30 137.10,51.20 137.28,50.58 137.47,50.11 137.65,49.79 137.83,49.60 138.02,49.50 138.20,49.50 138.38,49.66 138.57,50.03 138.76,50.49 138.94,50.97 139.12,51.37 139.30,51.60 139.47,51.63 139.64,51.53 139.80,51.36 139.96,51.14 140.13,50.94 140.30,50.80 140.48,50.66 140.67,50.47 140.86,50.29 141.05,50.18 141.23,50.20 141.40,50.40 141.55,50.82 141.68,51.41 141.80,52.12 141.92,52.93 142.05,53.77 142.20,54.60 142.37,55.60 142.54,56.83 142.73,58.09 142.92,59.21 143.11,59.97 143.30,60.20 143.48,59.71 143.66,58.61 143.84,57.17 144.02,55.64 144.21,54.26 144.40,53.30 144.61,52.75 144.82,52.42 145.04,52.24 145.27,52.17 145.49,52.14 145.70,52.10 145.90,52.06 146.09,52.08 146.27,52.14 146.47,52.24 146.67,52.36 146.90,52.50 147.15,52.66 147.41,52.84 147.69,53.04 147.98,53.27 148.28,53.53 148.60,53.80 148.94,54.13 149.31,54.53 149.70,54.96 150.09,55.36 150.46,55.69 150.80,55.90 151.11,55.99 151.40,56.00 151.68,55.94 151.95,55.82 152.22,55.67 152.50,55.50 152.79,55.34 153.08,55.19 153.37,55.00 153.66,54.73 153.94,54.35 154.20,53.80 154.44,52.94 154.67,51.77 154.88,50.48 155.09,49.26 155.29,48.31 155.50,47.80 155.71,47.81 155.91,48.20 156.11,48.86 156.30,49.65 156.50,50.47 156.70,51.20 156.90,51.95 157.09,52.85 157.29,53.77 157.49,54.60 157.69,55.22 157.90,55.50 158.12,55.35 158.34,54.86 158.57,54.15 158.80,53.36 159.05,52.63 159.30,52.10 159.57,51.72 159.84,51.37 160.13,51.08 160.42,50.87 160.71,50.77 161.00,50.80 161.29,51.00 161.57,51.35 161.86,51.81 162.15,52.32 162.43,52.83 162.70,53.30 162.96,53.79 163.21,54.37 163.46,54.94 163.71,55.44 163.95,55.79 164.20,55.90 164.45,55.71 164.71,55.27 164.96,54.67 165.21,54.01 165.46,53.39 165.70,52.90 165.92,52.51 166.13,52.13 166.34,51.78 166.54,51.50 166.76,51.29 167.00,51.20 167.26,51.25 167.52,51.43 167.80,51.69 168.09,51.99 168.39,52.28 168.70,52.50 169.03,52.67 169.37,52.83 169.72,52.98 170.08,53.11 170.44,53.22 170.80,53.30 171.19,53.35 171.61,53.36 172.03,53.35 172.43,53.33 172.76,53.31 173.00,53.30" fill="none" stroke="#fff000" stroke-width="1.2" stroke-linejoin="round" opacity="1"/>
<polyline points="392.20,51.30 412.00,51.30 412.00,50.91 412.48,51.39 412.92,51.19 413.23,51.46 413.66,51.09 414.27,51.44 414.79,50.85 415.17,51.47 415.65,51.09 415.93,51.59 416.23,51.03 416.58,51.94 417.11,51.14 417.62,51.63 418.04,50.96 418.35,51.71 418.79,51.15 419.16,52.07 419.58,50.81 420.12,51.73 420.72,51.10 421.05,51.85 421.54,50.81 422.09,52.18 422.43,51.08 422.75,51.60 423.32,50.76 423.67,51.74 423.96,50.41 424.47,51.83 424.94,51.06 425.26,51.84 425.80,49.72 426.15,52.49 426.55,49.49 426.95,52.33 427.25,49.62 427.73,53.34 428.30,48.67 428.87,52.74 429.26,49.74 429.64,54.00 429.95,49.16 430.48,56.52 430.89,45.56 431.50,56.79 431.89,49.55 432.50,53.20 433.01,46.67 433.33,55.23 433.62,43.92 434.22,58.03 434.64,43.02 435.06,54.47 435.44,47.22 435.89,57.81 436.22,45.86 436.60,26.30 436.69,60.94 437.24,42.80 437.75,59.76 438.21,43.43 438.60,58.85 439.00,79.30 439.15,36.28 439.40,6.80 439.73,59.33 440.14,44.67 440.44,61.54 441.06,33.41 441.47,56.62 441.98,46.38 442.49,67.51 442.70,16.60 442.91,43.52 443.28,66.51 443.30,79.30 443.61,41.58 444.20,55.77 444.79,45.73 445.32,61.58 445.82,29.84 446.30,60.64 446.30,84.80 446.69,43.72 447.03,66.97 447.65,32.67 448.14,57.91 448.48,40.12 449.04,59.91 449.40,30.00 449.49,42.94 449.83,57.27 450.43,48.26 450.82,62.97 451.43,44.22 451.50,14.10 451.89,58.20 452.18,46.88 452.63,56.74 453.13,42.93 453.48,54.23 453.75,43.44 454.11,53.63 454.49,45.36 454.60,14.80 455.10,54.40 455.39,36.91 455.50,78.70 455.66,56.97 456.16,42.59 456.65,53.81 457.07,44.13 457.36,63.73 457.89,48.52 458.40,90.70 458.41,61.62 458.77,47.88 459.14,54.47 459.76,43.08 460.21,54.27 460.75,48.99 461.37,54.24 461.73,42.08 462.33,54.59 462.66,43.70 463.19,56.71 463.40,19.60 463.75,42.48 464.30,58.41 464.85,47.04 465.31,56.51 465.61,49.61 465.90,75.00 466.15,55.26 466.52,43.15 466.89,57.46 467.42,42.52 468.01,58.46 468.49,48.67 468.50,28.80 469.00,59.14 469.29,45.99 469.84,54.67 470.27,45.91 470.85,54.43 471.00,67.70 471.22,47.17 471.63,55.10 472.10,47.66 472.70,57.99 472.98,48.47 473.50,58.77 473.99,48.70 474.27,53.41 474.40,38.00 474.56,49.37 475.08,57.10 475.61,46.01 475.97,57.44 476.57,43.68 476.88,59.10 477.10,66.50 477.46,47.69 478.02,58.26 478.35,49.98 478.64,56.86 479.18,47.89 479.59,53.56 480.15,46.76 480.50,54.47 481.12,50.36 481.71,57.45 482.29,50.21 482.61,52.73 482.97,46.91 483.20,42.00 483.47,56.40 483.81,50.27 484.08,54.89 484.70,49.45 485.29,55.59 485.58,50.57 485.96,53.98 486.51,49.26 486.70,64.00 486.96,54.13 487.44,49.58 487.94,52.52 488.44,48.51 489.00,53.97 489.53,47.73 489.97,55.00 490.29,48.83 490.75,54.60 491.05,47.68 491.47,54.31 492.10,49.40 492.44,52.16 492.94,49.29 493.52,53.36 493.91,48.53 494.20,54.08 494.53,50.75 494.96,53.99 495.33,50.65 495.84,52.31 496.40,49.06 496.88,52.53 497.18,48.76 497.69,52.21 498.01,50.81 498.52,53.02 498.84,48.91 499.23,53.60 499.82,50.64 500.40,52.94 500.83,49.60 501.42,51.68 501.85,50.22 502.46,53.12 502.91,49.64 503.36,52.19 503.78,50.32 504.17,51.59 504.78,50.70 505.00,51.30" fill="none" stroke="#e4087f" stroke-width="0.75" stroke-linejoin="round" opacity="1"/>
<polyline points="568.80,50.70 595.00,50.70 595.00,51.41 596.30,50.13 597.26,51.05 598.28,50.18 599.08,51.04 600.51,50.07 601.44,51.23 602.85,49.95 604.18,51.21 605.27,50.06 606.08,51.29 607.00,50.50 608.80,52.00 610.40,49.10 611.60,53.00 612.80,48.50 613.90,54.90 615.10,47.50 616.20,41.00 617.40,57.20 618.60,45.60 619.70,59.50 620.90,46.80 621.20,58.50 622.30,46.00 623.50,55.00 624.70,66.60 625.80,49.00 627.00,47.00 628.10,42.00 628.80,27.10 629.80,38.00 630.90,35.20 632.10,46.00 633.00,75.00 634.00,93.40 634.90,75.00 635.80,40.00 636.70,22.40 637.70,28.00 638.60,21.00 639.30,13.80 640.20,26.00 641.40,51.00 642.30,84.00 643.30,63.00 644.40,28.30 645.10,24.80 646.00,44.00 647.40,72.00 648.60,49.00 649.70,39.80 650.90,51.00 652.10,38.60 653.20,58.00 654.40,65.30 655.50,46.80 656.70,45.60 657.90,49.00 659.00,45.60 660.20,51.40 661.30,48.00 662.50,53.70 663.70,59.50 664.80,51.40 666.00,45.60 667.10,37.50 668.30,51.40 669.50,55.00 670.60,49.00 671.80,51.40 672.90,42.10 674.10,45.60 675.30,53.70 676.40,51.40 677.60,49.00 678.70,52.60 679.90,50.20 681.10,51.40 682.30,50.20" fill="none" stroke="#1d9a4c" stroke-width="1.0" stroke-linejoin="round" opacity="1"/>
<polyline points="58.80,190.90 59.46,190.93 60.36,190.97 61.43,191.01 62.62,191.06 63.86,191.09 65.10,191.10 66.42,191.07 67.90,191.01 69.42,190.94 70.91,190.89 72.27,190.86 73.40,190.90 74.25,191.01 74.87,191.16 75.37,191.36 75.81,191.57 76.30,191.79 76.90,192.00 77.64,192.24 78.45,192.51 79.30,192.80 80.15,193.05 80.96,193.23 81.70,193.30 82.37,193.26 83.00,193.14 83.60,192.94 84.16,192.69 84.70,192.37 85.20,192.00 85.66,191.64 86.08,191.29 86.47,190.89 86.84,190.35 87.21,189.61 87.60,188.60 88.00,187.23 88.40,185.53 88.81,183.63 89.21,181.65 89.61,179.70 90.00,177.90 90.40,176.16 90.80,174.38 91.19,172.63 91.58,170.99 91.95,169.55 92.30,168.40 92.62,167.51 92.90,166.80 93.17,166.29 93.44,165.99 93.71,165.93 94.00,166.10 94.30,166.47 94.60,167.02 94.91,167.80 95.23,168.86 95.56,170.24 95.90,172.00 96.26,174.39 96.65,177.42 97.05,180.78 97.45,184.15 97.84,187.23 98.20,189.70 98.54,191.63 98.87,193.29 99.19,194.65 99.50,195.70 99.80,196.42 100.10,196.80 100.39,196.73 100.66,196.20 100.92,195.34 101.19,194.28 101.48,193.16 101.80,192.10 102.17,190.99 102.58,189.69 103.01,188.33 103.43,187.02 103.84,185.87 104.20,185.00 104.51,184.39 104.78,183.94 105.03,183.66 105.27,183.54 105.53,183.58 105.80,183.80 106.09,184.17 106.39,184.70 106.70,185.39 107.02,186.26 107.35,187.33 107.70,188.60 108.07,190.19 108.47,192.10 108.88,194.21 109.29,196.38 109.70,198.49 110.10,200.40 110.48,202.17 110.86,203.90 111.22,205.56 111.60,207.14 111.99,208.59 112.40,209.90 112.85,211.19 113.34,212.51 113.84,213.71 114.34,214.64 114.80,215.16 115.20,215.10 115.53,214.51 115.81,213.52 116.06,212.11 116.29,210.26 116.53,207.96 116.80,205.20 117.09,201.81 117.39,197.79 117.70,193.31 118.02,188.57 118.35,183.77 118.70,179.10 119.07,174.35 119.46,169.32 119.87,164.23 120.28,159.29 120.69,154.71 121.10,150.70 121.51,147.22 121.94,144.10 122.37,141.33 122.79,138.94 123.17,136.92 123.50,135.30 123.76,134.12 123.97,133.37 124.15,133.01 124.31,132.97 124.49,133.19 124.70,133.60 124.94,134.20 125.19,135.02 125.46,136.11 125.73,137.48 126.01,139.17 126.30,141.20 126.60,143.73 126.91,146.78 127.23,150.14 127.56,153.62 127.88,157.04 128.20,160.20 128.51,163.22 128.81,166.29 129.12,169.29 129.43,172.11 129.75,174.65 130.10,176.80 130.47,178.57 130.86,180.06 131.27,181.26 131.68,182.19 132.09,182.83 132.50,183.20 132.90,183.16 133.29,182.69 133.67,181.93 134.07,181.06 134.48,180.23 134.90,179.60 135.34,179.09 135.80,178.56 136.27,178.08 136.75,177.69 137.23,177.48 137.70,177.50 138.16,177.82 138.62,178.40 139.08,179.15 139.54,179.98 140.02,180.79 140.50,181.50 141.00,182.18 141.52,182.92 142.04,183.64 142.57,184.28 143.09,184.76 143.60,185.00 144.09,185.01 144.58,184.84 145.06,184.51 145.53,184.04 146.01,183.43 146.50,182.70 147.00,181.74 147.51,180.51 148.03,179.16 148.54,177.80 149.03,176.57 149.50,175.60 149.93,174.86 150.34,174.23 150.74,173.73 151.12,173.38 151.51,173.20 151.90,173.20 152.30,173.39 152.70,173.74 153.10,174.26 153.50,174.95 153.90,175.79 154.30,176.80 154.70,178.02 155.09,179.46 155.47,181.06 155.87,182.76 156.28,184.49 156.70,186.20 157.15,187.98 157.62,189.89 158.10,191.84 158.58,193.73 159.05,195.45 159.50,196.90 159.92,198.11 160.33,199.17 160.73,200.06 161.12,200.77 161.51,201.29 161.90,201.60 162.29,201.69 162.67,201.57 163.05,201.26 163.43,200.77 163.81,200.11 164.20,199.30 164.59,198.24 164.99,196.89 165.39,195.38 165.80,193.82 166.20,192.32 166.60,191.00 167.01,189.82 167.42,188.69 167.83,187.63 168.24,186.64 168.63,185.76 169.00,185.00 169.35,184.38 169.70,183.90 170.03,183.52 170.34,183.21 170.64,182.95 170.90,182.70 171.14,182.48 171.37,182.32 171.57,182.21 171.74,182.12 171.89,182.06 172.00,182.00" fill="none" stroke="#fff000" stroke-width="1.2" stroke-linejoin="round" opacity="1"/>
<polyline points="392.80,174.00 404.00,174.00 404.00,173.90 404.54,174.39 404.87,173.90 405.42,174.15 405.98,173.59 406.55,174.25 407.07,173.48 407.56,174.28 407.96,173.56 408.31,174.94 408.97,173.21 409.35,174.82 409.73,173.65 410.39,175.34 410.76,173.17 411.33,175.43 411.87,172.56 412.24,174.31 412.72,173.61 413.10,174.37 413.76,173.65 414.14,175.55 414.73,173.11 415.11,176.48 415.79,173.20 416.22,175.68 416.68,173.27 417.27,175.17 417.85,172.46 418.21,176.24 418.82,172.18 419.14,176.85 419.50,171.05 420.14,176.59 420.48,171.78 420.82,175.49 421.25,170.68 421.68,175.28 422.02,173.25 422.71,177.54 423.04,168.63 423.39,181.34 423.98,166.99 424.39,183.63 424.84,159.48 425.39,179.47 425.83,157.09 426.29,184.17 426.80,168.82 427.14,182.63 427.45,169.30 428.07,186.73 428.60,210.40 428.67,166.91 429.10,187.14 429.46,159.40 430.06,183.26 430.54,152.83 431.17,186.56 431.67,148.96 431.80,143.20 432.11,179.95 432.60,164.10 432.95,186.87 433.46,154.51 434.11,188.14 434.59,156.36 435.11,177.76 435.49,166.75 435.90,179.29 436.51,170.07 437.11,188.28 437.55,168.23 437.94,182.00 438.48,167.67 439.13,201.82 439.80,168.92 440.25,179.62 440.58,165.47 441.25,191.04 441.90,161.12 442.47,185.15 443.06,167.34 443.56,179.06 443.92,158.03 444.42,183.48 444.88,163.21 445.41,178.17 446.08,167.27 446.57,178.08 447.03,172.24 447.43,175.69 448.01,165.37 448.38,175.57 448.89,169.65 449.30,161.70 449.51,181.43 449.90,168.00 450.33,177.96 450.78,172.12 451.08,180.66 451.40,171.61 452.00,178.59 452.47,172.81 453.07,176.36 453.74,171.31 454.20,175.58 454.71,171.04 455.03,174.83 455.60,170.44 456.01,175.72 456.64,173.30 457.02,174.72 457.45,171.73 457.76,174.57 458.17,173.16 458.82,174.56 459.41,172.51 459.78,174.45 460.36,172.40 460.83,174.40 461.41,172.84 461.86,174.57 462.36,172.70 462.99,174.59 463.66,173.12 464.00,174.62 464.63,172.01 465.18,174.37 465.70,172.12 466.13,174.74 466.63,173.26 467.08,174.90 467.57,171.56 468.00,174.86 468.69,173.46 469.30,174.62 469.89,173.18 470.28,174.24 470.77,171.79 471.46,174.80 471.83,172.46 472.17,175.18 472.62,173.05 473.21,174.70 473.73,172.10 474.15,174.39 474.59,173.37 474.89,175.06 475.44,173.01 475.83,174.92 476.40,172.54 476.72,174.34 477.38,173.18 478.04,174.35 478.52,173.57 479.06,174.51 479.38,173.17 479.95,174.63 480.57,173.61 481.04,174.97 481.68,173.15 482.37,174.73 483.05,172.48 483.53,174.35 484.08,173.53 484.50,174.94 484.86,173.53 485.30,174.77 485.69,173.62 486.39,174.53 487.06,173.04 487.41,174.48 487.84,173.04 488.24,174.37 488.93,173.20 489.48,174.42 489.81,173.73 490.19,174.43 490.50,173.40 490.83,174.76 491.41,173.67 491.95,174.51 492.33,173.11 492.71,174.20 493.27,173.13 493.68,174.18 494.33,173.17 494.65,174.74 494.99,173.64 495.51,174.29 495.86,173.69 496.39,174.44 496.92,173.37 497.27,174.66 497.64,173.81 498.22,174.65 498.59,173.49 499.20,174.67 499.56,173.13 500.07,174.65 500.56,173.23 501.20,174.39 501.85,173.26 502.43,174.19 502.88,173.49 503.26,174.55 503.58,173.63 503.99,174.60 504.30,173.27 504.74,174.20 505.28,173.58 505.50,174.00" fill="none" stroke="#e4087f" stroke-width="0.75" stroke-linejoin="round" opacity="1"/>
<polyline points="570.40,173.40 574.60,173.40 579.30,172.50 582.80,173.40 585.10,173.90 588.60,172.20 592.00,171.10 594.40,172.20 596.70,173.40 598.30,176.20 599.70,175.70 601.30,178.50 602.50,176.90 603.60,181.50 604.80,184.50 606.00,180.40 606.70,174.60 607.60,183.80 609.00,168.80 610.60,147.90 611.80,138.10 612.90,145.60 614.10,166.40 615.20,180.40 616.40,185.00 617.60,180.40 618.70,168.80 619.90,161.80 621.00,159.50 622.90,161.80 625.20,161.80 626.40,164.00 627.50,170.00 628.80,175.70 630.60,183.80 632.50,194.30 633.70,205.90 634.60,208.20 635.70,196.60 636.90,168.80 638.10,154.80 639.20,145.60 640.40,138.60 641.30,135.10 642.20,139.80 643.40,152.50 644.60,166.40 646.20,176.90 647.60,186.20 648.70,188.50 649.90,180.40 651.10,166.40 652.20,160.60 653.40,159.00 654.50,164.10 655.70,169.90 656.90,172.20 658.00,166.40 659.20,164.10 660.30,171.10 661.50,181.50 662.40,186.20 663.60,180.40 664.70,173.40 665.90,172.20 667.10,171.10 668.20,167.60 669.60,164.10 671.20,161.30 672.90,159.50 674.70,160.60 675.90,165.30 677.00,173.40 678.20,180.40 679.40,182.70 680.50,181.50 681.70,180.80 683.00,181.50" fill="none" stroke="#1d9a4c" stroke-width="1.0" stroke-linejoin="round" opacity="1"/>
<polyline points="59.00,313.20 60.63,313.21 63.00,313.24 65.75,313.27 68.52,313.29 70.96,313.27 72.70,313.20 73.66,313.07 74.12,312.89 74.24,312.67 74.20,312.44 74.16,312.21 74.30,312.00 74.59,311.78 74.89,311.52 75.19,311.26 75.49,311.05 75.80,310.91 76.10,310.90 76.39,311.03 76.68,311.27 76.97,311.59 77.26,311.96 77.57,312.34 77.90,312.70 78.25,313.10 78.63,313.57 79.02,314.05 79.41,314.49 79.81,314.82 80.20,315.00 80.59,314.97 80.99,314.79 81.39,314.50 81.79,314.17 82.16,313.85 82.50,313.60 82.81,313.37 83.09,313.11 83.35,312.86 83.60,312.68 83.85,312.61 84.10,312.70 84.36,313.01 84.61,313.51 84.86,314.13 85.11,314.79 85.36,315.40 85.60,315.90 85.84,316.31 86.07,316.69 86.29,317.03 86.52,317.32 86.76,317.55 87.00,317.70 87.26,317.73 87.52,317.65 87.79,317.51 88.06,317.35 88.33,317.23 88.60,317.20 88.86,317.24 89.13,317.32 89.39,317.43 89.65,317.59 89.92,317.81 90.20,318.10 90.50,318.50 90.81,319.01 91.13,319.59 91.44,320.16 91.74,320.69 92.00,321.10 92.22,321.43 92.42,321.73 92.59,321.98 92.76,322.16 92.92,322.24 93.10,322.20 93.28,322.09 93.46,321.93 93.64,321.68 93.83,321.29 94.01,320.71 94.20,319.90 94.40,318.89 94.60,317.73 94.80,316.39 95.00,314.82 95.20,313.00 95.40,310.90 95.59,308.41 95.77,305.54 95.96,302.42 96.14,299.17 96.32,295.92 96.50,292.80 96.68,289.73 96.86,286.60 97.04,283.47 97.23,280.40 97.41,277.46 97.60,274.70 97.80,272.11 98.00,269.63 98.20,267.27 98.40,265.05 98.60,262.99 98.80,261.10 98.99,259.31 99.17,257.60 99.36,256.04 99.54,254.71 99.72,253.71 99.90,253.10 100.08,252.89 100.26,253.01 100.44,253.45 100.63,254.19 100.81,255.21 101.00,256.50 101.20,258.12 101.40,260.11 101.60,262.38 101.80,264.86 102.00,267.45 102.20,270.10 102.39,272.86 102.57,275.80 102.76,278.87 102.94,282.00 103.12,285.13 103.30,288.20 103.48,291.35 103.66,294.65 103.84,297.96 104.03,301.10 104.21,303.94 104.40,306.30 104.60,308.13 104.80,309.53 105.00,310.62 105.20,311.50 105.40,312.29 105.60,313.10 105.79,313.84 105.97,314.40 106.16,314.87 106.34,315.32 106.52,315.84 106.70,316.50 106.88,317.29 107.06,318.15 107.24,319.07 107.43,320.05 107.61,321.10 107.80,322.20 108.00,323.42 108.20,324.77 108.40,326.18 108.60,327.58 108.80,328.91 109.00,330.10 109.19,331.27 109.37,332.49 109.56,333.64 109.74,334.60 109.92,335.22 110.10,335.40 110.28,335.07 110.46,334.31 110.64,333.24 110.83,331.93 111.01,330.49 111.20,329.00 111.40,327.28 111.60,325.22 111.80,323.02 112.00,320.90 112.20,319.06 112.40,317.70 112.59,316.86 112.79,316.38 112.98,316.18 113.16,316.19 113.34,316.32 113.50,316.50 113.65,316.88 113.78,317.54 113.90,318.34 114.02,319.10 114.15,319.67 114.30,319.90 114.46,319.74 114.63,319.31 114.80,318.69 114.99,317.97 115.18,317.21 115.40,316.50 115.64,315.79 115.89,315.00 116.16,314.18 116.43,313.38 116.72,312.64 117.00,312.00 117.29,311.41 117.59,310.81 117.90,310.28 118.21,309.87 118.51,309.66 118.80,309.70 119.08,310.07 119.36,310.73 119.63,311.57 119.90,312.52 120.15,313.46 120.40,314.30 120.64,315.10 120.86,315.93 121.08,316.77 121.29,317.56 121.49,318.25 121.70,318.80 121.90,319.21 122.09,319.50 122.28,319.70 122.47,319.82 122.68,319.88 122.90,319.90 123.14,319.79 123.41,319.53 123.68,319.21 123.96,318.91 124.23,318.75 124.50,318.80 124.75,319.04 125.00,319.39 125.24,319.87 125.48,320.49 125.73,321.26 126.00,322.20 126.28,323.58 126.57,325.45 126.88,327.47 127.18,329.33 127.49,330.68 127.80,331.20 128.12,330.72 128.44,329.45 128.77,327.69 129.09,325.70 129.41,323.78 129.70,322.20 129.97,320.91 130.23,319.67 130.47,318.49 130.71,317.39 130.95,316.35 131.20,315.40 131.46,314.51 131.72,313.68 131.98,312.92 132.25,312.26 132.52,311.71 132.80,311.30 133.09,311.04 133.38,310.93 133.68,310.93 133.99,311.01 134.29,311.15 134.60,311.30 134.92,311.45 135.24,311.62 135.57,311.84 135.89,312.14 136.21,312.55 136.50,313.10 136.77,313.83 137.03,314.73 137.27,315.74 137.51,316.79 137.75,317.83 138.00,318.80 138.26,319.78 138.52,320.83 138.78,321.87 139.05,322.80 139.32,323.54 139.60,324.00 139.88,324.15 140.17,324.06 140.46,323.78 140.76,323.35 141.07,322.81 141.40,322.20 141.75,321.45 142.13,320.50 142.52,319.45 142.91,318.37 143.31,317.36 143.70,316.50 144.08,315.74 144.47,315.00 144.86,314.33 145.24,313.76 145.62,313.34 146.00,313.10 146.37,313.11 146.74,313.35 147.10,313.73 147.46,314.17 147.83,314.59 148.20,314.90 148.58,315.14 148.96,315.38 149.34,315.60 149.73,315.76 150.12,315.84 150.50,315.80 150.88,315.59 151.27,315.23 151.66,314.79 152.04,314.32 152.42,313.90 152.80,313.60 153.17,313.40 153.54,313.24 153.90,313.14 154.26,313.08 154.63,313.07 155.00,313.10 155.38,313.20 155.76,313.36 156.15,313.58 156.54,313.81 156.92,314.06 157.30,314.30 157.68,314.52 158.05,314.75 158.43,314.98 158.79,315.23 159.15,315.50 159.50,315.80 159.84,316.18 160.17,316.65 160.49,317.14 160.81,317.59 161.11,317.93 161.40,318.10 161.67,318.07 161.93,317.90 162.17,317.63 162.41,317.27 162.65,316.89 162.90,316.50 163.16,316.06 163.42,315.54 163.68,314.98 163.95,314.44 164.22,313.96 164.50,313.60 164.79,313.35 165.09,313.17 165.39,313.06 165.69,313.01 166.00,313.02 166.30,313.10 166.60,313.28 166.91,313.58 167.21,313.94 167.51,314.31 167.81,314.65 168.10,314.90 168.38,315.07 168.66,315.20 168.94,315.29 169.20,315.36 169.46,315.39 169.70,315.40 169.94,315.37 170.17,315.29 170.40,315.18 170.60,315.07 170.77,314.97 170.90,314.90" fill="none" stroke="#fff000" stroke-width="1.2" stroke-linejoin="round" opacity="1"/>
<polyline points="569.80,307.90 581.40,307.90 583.60,307.26 585.20,305.69 586.30,312.43 587.40,307.93 588.80,303.44 589.90,307.93 591.00,304.56 592.10,309.06 593.30,305.69 594.40,307.93 595.50,302.31 596.60,307.93 597.80,303.44 598.90,301.19 600.00,307.93 601.10,306.81 602.30,304.56 603.80,297.82 605.00,303.44 606.10,314.67 607.20,312.43 608.30,315.80 609.40,328.16 610.60,340.52 611.70,321.42 612.80,294.45 614.00,271.98 615.10,264.11 616.20,271.98 617.30,292.20 618.40,305.69 619.60,312.43 620.20,314.67 621.10,298.94 621.80,283.21 622.90,287.71 624.10,314.67 625.20,328.16 626.20,316.92 627.40,306.81 628.50,307.93 629.60,313.55 630.70,325.91 631.90,307.93 633.00,300.07 634.10,304.56 635.20,294.45 636.40,309.06 637.00,320.29 637.90,303.44 638.80,293.33 639.70,292.20 640.60,298.94 641.50,314.67 642.40,319.17 643.30,320.29 644.20,322.54 645.30,316.92 646.50,313.55 647.60,310.18 648.70,304.56 649.80,300.07 651.00,297.82 652.10,298.49 653.20,302.31 654.30,307.93 655.50,312.88 656.60,310.18 657.70,314.67 658.80,309.06 659.90,310.18 661.10,307.93 662.20,307.48 663.30,309.06 664.40,311.98 665.60,310.63 666.70,309.06 667.80,308.38 668.90,307.93 670.10,306.81 671.20,307.93 672.30,306.13 673.40,307.48 674.60,309.06 675.70,306.81 676.80,307.93 677.90,312.43 679.10,309.06 680.20,305.69 681.30,309.06 682.30,307.93" fill="none" stroke="#1d9a4c" stroke-width="1.0" stroke-linejoin="round" opacity="1"/>
<polyline points="224.60,53.00 225.00,53.72 225.28,53.56 225.55,53.23 225.83,52.88 226.10,52.60 226.38,52.44 226.65,52.17 226.98,52.61 227.31,52.69 227.64,52.84 227.97,53.28 228.30,53.56 228.61,53.22 228.92,52.68 229.23,51.99 229.54,51.63 229.85,52.02 230.16,52.78 230.46,53.38 230.77,53.75 231.08,53.06 231.39,52.23 231.70,51.69 232.03,52.07 232.37,52.73 232.70,53.26 233.03,53.58 233.34,53.22 233.64,52.81 233.95,52.61 234.25,52.51 234.56,52.04 234.87,52.37 235.19,52.62 235.50,53.09 235.82,53.42 236.13,53.21 236.43,52.87 236.74,52.34 237.05,52.12 237.32,52.46 237.60,53.04 237.88,54.04 238.16,53.91 238.44,53.61 238.72,52.21 239.01,52.04 239.29,51.90 239.62,53.83 239.94,55.58 240.27,55.93 240.60,57.90 240.90,50.95 241.20,46.50 241.50,47.60 241.80,51.20 242.10,51.86 242.40,51.75 242.70,53.32 243.00,56.00 243.32,54.02 243.65,51.30 243.98,45.97 244.30,44.00 244.60,44.45 244.90,50.60 245.20,55.57 245.50,56.00 245.82,51.18 246.14,45.13 246.46,43.69 246.78,42.08 247.10,35.50 247.40,46.67 247.70,51.74 248.00,60.35 248.30,71.30 248.60,67.62 248.90,61.18 249.20,49.66 249.50,43.40 249.80,47.99 250.10,58.23 250.40,73.02 250.70,80.41 251.00,86.60 251.28,74.60 251.56,62.59 251.84,56.41 252.12,51.97 252.40,37.90 252.67,53.02 252.93,62.53 253.20,78.70 253.50,68.75 253.80,69.29 254.10,65.09 254.40,55.77 254.70,47.15 255.00,42.19 255.30,41.75 255.60,33.00 255.88,40.20 256.16,40.34 256.44,44.87 256.72,54.42 257.00,58.50 257.33,53.86 257.67,40.45 258.00,31.80 258.32,41.17 258.65,58.31 258.98,77.94 259.30,87.20 259.60,83.93 259.90,72.76 260.20,65.36 260.50,64.96 260.80,62.60 261.10,54.84 261.40,44.86 261.70,36.13 262.00,33.42 262.30,31.72 262.60,23.30 262.90,33.38 263.20,35.62 263.50,37.79 263.80,50.70 264.10,62.34 264.40,63.40 264.70,69.40 265.00,68.79 265.30,78.82 265.60,90.24 265.90,94.59 266.20,96.30 266.51,87.41 266.82,78.40 267.12,77.63 267.43,75.33 267.74,66.78 268.05,53.84 268.35,44.77 268.66,45.72 268.97,42.18 269.28,31.61 269.58,18.43 269.89,13.22 270.20,9.90 270.50,14.54 270.80,16.89 271.10,9.94 271.40,14.10 271.70,19.59 272.00,36.03 272.30,51.16 272.60,57.82 272.90,62.31 273.20,70.34 273.50,86.60 273.80,88.31 274.10,97.65 274.40,100.71 274.70,98.80 275.01,89.43 275.32,80.80 275.62,82.74 275.93,76.53 276.24,61.29 276.55,54.20 276.85,56.65 277.16,49.75 277.47,35.48 277.78,26.89 278.08,24.91 278.39,23.52 278.70,12.30 279.00,20.83 279.30,18.41 279.60,18.46 279.90,26.75 280.20,31.20 280.50,45.60 280.80,50.00 281.10,52.51 281.40,61.23 281.70,76.77 282.00,87.78 282.30,88.85 282.60,98.80 282.91,86.16 283.22,83.83 283.53,83.06 283.84,76.34 284.15,63.31 284.46,52.23 284.77,51.47 285.08,49.99 285.39,36.17 285.70,30.60 285.97,35.97 286.23,48.54 286.50,60.00 286.83,50.32 287.17,36.65 287.50,20.20 287.80,29.66 288.10,42.08 288.40,61.58 288.70,72.00 289.02,69.47 289.33,58.27 289.65,49.93 289.97,48.64 290.28,46.49 290.60,36.10 290.90,59.49 291.20,79.90 291.50,62.42 291.80,45.94 292.10,37.41 292.40,20.20 292.70,38.59 293.00,47.67 293.30,57.81 293.60,76.20 293.88,67.15 294.16,67.13 294.44,61.83 294.72,52.40 295.00,45.00 295.33,48.95 295.67,60.94 296.00,70.10 296.28,66.12 296.57,55.29 296.85,41.19 297.13,33.92 297.42,30.45 297.70,20.10 297.98,28.37 298.26,29.69 298.54,28.92 298.82,32.57 299.10,40.60 299.45,52.00 299.80,59.40 300.12,65.55 300.45,64.23 300.78,61.24 301.10,66.20 301.43,68.30 301.77,77.40 302.10,78.10 302.38,71.59 302.66,58.26 302.94,50.05 303.22,45.84 303.50,35.50 303.83,43.41 304.17,43.01 304.50,49.10 304.80,46.86 305.10,50.17 305.40,55.61 305.70,54.20 306.00,60.48 306.30,61.18 306.60,66.26 306.90,73.00 307.18,69.42 307.46,65.64 307.74,59.41 308.02,50.58 308.30,47.40 308.58,46.18 308.86,49.83 309.14,54.37 309.42,54.59 309.70,54.20 310.02,50.55 310.35,48.03 310.68,48.77 311.00,45.70 311.28,51.20 311.57,53.67 311.85,55.24 312.13,57.32 312.42,61.39 312.70,66.20 313.00,64.03 313.30,61.28 313.60,54.88 313.90,52.50 314.20,49.16 314.50,50.42 314.80,49.12 315.10,45.70 315.38,44.87 315.67,44.54 315.95,46.46 316.23,47.92 316.52,48.32 316.80,47.40 317.08,49.27 317.36,49.55 317.64,51.53 317.92,54.60 318.20,56.00 318.48,55.99 318.77,54.57 319.05,51.87 319.33,50.34 319.62,50.57 319.90,49.10 320.20,51.74 320.50,52.56 320.80,51.84 321.10,54.20 321.38,54.16 321.66,56.75 321.94,59.35 322.22,61.18 322.50,61.10 322.82,58.87 323.15,54.61 323.48,52.58 323.80,50.80 324.12,53.21 324.44,53.79 324.76,53.40 325.08,53.67 325.40,56.00 325.72,53.44 326.05,52.08 326.38,48.50 326.70,45.70 326.98,45.74 327.26,47.51 327.54,50.13 327.82,52.50 328.10,52.50 328.40,52.31 328.70,49.54 329.00,49.05 329.30,49.10 329.58,51.28 329.87,54.11 330.15,54.56 330.43,55.32 330.72,57.12 331.00,60.20 331.30,57.92 331.60,56.38 331.90,53.17 332.20,50.00 332.52,49.42 332.85,50.10 333.18,52.77 333.50,52.50 333.78,53.27 334.06,51.32 334.34,50.70 334.62,51.37 334.90,50.80 335.20,52.62 335.50,53.52 335.80,53.91 336.10,55.10 336.40,53.95 336.70,54.40 337.00,54.55 337.30,53.40 337.65,53.05 338.00,53.00" fill="none" stroke="#2b2f8e" stroke-width="1.0" stroke-linejoin="round" opacity="1"/>
<polyline points="224.80,276.20 225.10,276.20 225.40,276.20 225.69,276.20 225.99,276.20 226.29,276.20 226.59,276.20 226.88,276.20 227.18,276.20 227.48,276.20 227.78,276.20 228.07,276.20 228.37,276.20 228.67,276.20 228.97,276.20 229.27,276.20 229.56,276.20 229.86,276.20 230.16,276.20 230.46,276.20 230.75,276.20 231.05,276.20 231.35,276.20 231.65,276.20 231.94,276.20 232.24,276.20 232.54,276.20 232.84,276.20 233.13,276.20 233.43,276.20 233.73,276.20 234.03,276.20 234.33,276.20 234.62,276.20 234.92,276.20 235.22,276.20 235.52,276.20 235.81,276.21 236.11,276.18 236.41,276.18 236.71,276.22 237.00,276.30 237.30,276.15 237.60,276.20 237.88,276.27 238.15,276.37 238.42,277.26 238.70,276.90 238.97,276.35 239.25,274.69 239.53,273.66 239.80,273.51 240.10,274.47 240.40,276.56 240.70,277.24 241.00,278.04 241.28,275.05 241.55,272.97 241.82,271.88 242.10,268.98 242.45,268.88 242.80,267.85 243.10,271.63 243.40,276.57 243.70,281.43 243.97,282.78 244.25,283.77 244.53,283.58 244.80,284.83 245.10,282.18 245.40,281.19 245.70,279.68 246.00,276.90 246.28,276.40 246.55,275.13 246.82,274.68 247.10,274.64 247.38,276.01 247.65,277.08 247.92,276.99 248.20,278.04 248.50,276.66 248.80,276.16 249.10,276.28 249.40,274.64 249.68,275.25 249.95,274.51 250.22,275.01 250.50,275.77 250.78,278.72 251.05,280.60 251.32,281.85 251.60,284.83 251.90,281.76 252.20,279.76 252.50,276.83 252.80,273.51 253.08,275.69 253.35,278.52 253.62,282.33 253.90,284.83 254.18,283.06 254.45,279.51 254.72,276.40 255.00,274.64 255.28,276.86 255.55,280.12 255.83,283.06 256.10,284.83 256.40,282.12 256.70,279.02 257.00,277.70 257.30,274.64 257.57,277.66 257.85,278.77 258.12,280.56 258.40,283.70 258.67,281.15 258.95,279.52 259.23,276.83 259.50,273.51 259.80,271.27 260.10,268.51 260.40,268.22 260.70,265.58 260.98,265.59 261.25,263.51 261.52,261.08 261.80,261.06 262.07,259.51 262.35,260.61 262.62,260.69 262.90,258.79 263.20,257.42 263.50,255.21 263.80,255.01 264.10,254.26 264.38,256.04 264.65,257.43 264.93,257.71 265.20,257.66 265.55,259.75 265.90,265.58 266.25,275.93 266.60,285.96 267.00,301.81 267.35,311.86 267.70,317.66 268.00,312.57 268.30,307.22 268.60,306.34 268.95,311.95 269.30,314.26 269.65,323.07 270.00,328.98 270.30,332.46 270.60,340.30 270.95,329.08 271.30,319.92 271.65,311.45 272.00,297.28 272.35,291.96 272.70,285.96 272.98,283.27 273.25,285.34 273.52,289.46 273.80,287.09 274.07,287.45 274.35,284.94 274.62,283.29 274.90,283.70 275.20,280.59 275.50,279.17 275.80,277.19 276.10,273.51 276.38,272.60 276.65,269.99 276.93,268.25 277.20,267.85 277.48,266.18 277.75,264.45 278.02,261.24 278.30,258.79 278.57,262.32 278.83,267.15 279.10,272.38 279.40,271.39 279.70,268.71 280.00,265.42 280.30,264.45 280.57,266.95 280.85,271.36 281.12,274.70 281.40,276.90 281.67,273.28 281.95,269.00 282.23,266.73 282.50,263.32 282.80,263.33 283.10,261.06 283.40,258.82 283.70,258.79 283.98,259.06 284.25,260.98 284.52,262.47 284.80,262.19 285.07,264.31 285.35,264.66 285.62,266.62 285.90,268.98 286.20,270.86 286.50,272.89 286.80,273.01 287.10,274.64 287.38,276.70 287.65,280.86 287.93,285.01 288.20,287.09 288.48,284.41 288.75,279.96 289.02,276.91 289.30,274.64 289.65,268.52 290.00,261.06 290.30,268.08 290.60,272.50 290.90,279.17 291.25,285.28 291.60,293.88 291.95,278.59 292.30,261.06 292.60,270.73 292.90,277.86 293.20,288.22 293.50,290.97 293.80,296.06 294.10,298.41 294.40,291.62 294.70,282.49 295.00,274.64 295.27,270.69 295.55,267.84 295.83,266.91 296.10,263.32 296.38,263.52 296.65,261.06 296.93,258.71 297.20,258.79 297.50,259.56 297.80,262.46 298.10,264.99 298.40,265.58 298.67,264.69 298.95,262.76 299.23,262.54 299.50,262.19 299.77,264.34 300.05,266.05 300.33,265.91 300.60,267.85 300.90,267.98 301.20,270.36 301.50,272.25 301.80,272.38 302.07,274.06 302.35,274.06 302.62,274.99 302.90,276.90 303.17,278.16 303.45,279.94 303.73,280.78 304.00,281.43 304.30,281.76 304.60,281.83 304.90,282.74 305.20,283.70 305.48,283.62 305.75,283.20 306.02,281.52 306.30,281.43 306.57,280.61 306.85,281.10 307.12,281.32 307.40,280.30 307.70,279.44 308.00,278.39 308.30,278.70 308.60,278.04 308.88,277.39 309.15,275.37 309.43,273.14 309.70,272.38 309.98,270.72 310.25,270.55 310.52,269.76 310.80,267.85 311.10,269.15 311.40,269.93 311.70,272.22 312.00,273.51 312.27,273.15 312.55,271.28 312.83,269.39 313.10,268.98 313.38,270.42 313.65,273.01 313.93,274.69 314.20,275.77 314.50,274.67 314.80,273.34 315.10,272.89 315.40,272.38 315.67,273.39 315.95,274.25 316.23,274.17 316.50,274.64 316.77,273.81 317.05,273.47 317.33,273.79 317.60,273.51 317.90,274.75 318.20,274.78 318.50,274.58 318.80,275.77 319.07,274.14 319.35,273.39 319.62,272.17 319.90,270.11 320.17,270.98 320.45,271.70 320.73,273.00 321.00,274.64 321.27,274.88 321.55,274.58 321.83,273.57 322.10,273.51 322.40,273.39 322.70,274.53 323.00,275.76 323.30,275.77 323.57,275.95 323.85,275.82 324.12,276.30 324.40,276.90 324.67,277.43 324.95,278.02 325.23,277.71 325.50,278.04 325.80,276.95 326.10,276.78 326.40,276.80 326.70,275.77 326.98,276.72 327.25,276.65 327.52,276.90 327.80,278.04 328.07,277.38 328.35,276.94 328.62,275.69 328.90,274.64 329.20,273.67 329.50,272.98 329.80,273.36 330.10,272.38 330.38,273.46 330.65,273.31 330.93,273.48 331.20,274.64 331.48,274.35 331.75,274.68 332.02,274.05 332.30,273.51 332.60,273.62 332.90,274.35 333.20,275.66 333.50,275.77 333.77,276.33 334.05,276.05 334.33,276.14 334.60,276.90 334.88,276.48 335.15,276.33 335.43,275.18 335.70,274.64 336.00,274.17 336.30,274.40 336.60,274.98 336.90,274.64 337.17,275.23 337.45,274.68 337.73,274.47 338.00,275.09" fill="none" stroke="#2b2f8e" stroke-width="1.05" stroke-linejoin="round" opacity="1"/>
<polyline points="225.80,168.30 226.10,168.32 226.40,168.30 226.70,168.28 227.00,168.29 227.30,168.32 227.60,168.29 227.90,168.28 228.20,168.31 228.50,168.32 228.80,168.30 229.10,168.28 229.40,168.30 229.70,168.32 230.00,168.30 230.30,168.28 230.60,168.31 230.90,168.32 231.20,168.30 231.50,168.18 231.80,168.31 232.10,168.46 232.40,168.32 232.70,168.16 233.00,168.30 233.30,167.75 233.60,167.87 233.90,167.03 234.20,166.50 234.45,167.67 234.70,170.00 235.00,167.64 235.30,166.00 235.60,169.20 235.90,171.00 236.30,162.00 236.65,169.42 237.00,174.00 237.30,164.50 237.60,160.00 237.90,166.38 238.20,176.00 238.50,168.63 238.80,157.92 239.10,147.50 239.50,199.00 239.77,180.22 240.03,164.68 240.30,150.40 240.60,170.13 240.90,184.00 241.17,171.48 241.43,149.75 241.70,138.70 242.10,175.00 242.50,134.00 242.85,155.48 243.20,180.00 243.55,204.62 243.90,220.60 244.20,189.98 244.50,160.00 244.83,147.32 245.17,145.01 245.50,135.20 245.83,154.78 246.17,164.06 246.50,185.20 246.75,164.82 247.00,150.40 247.30,165.85 247.60,178.00 247.90,166.91 248.20,152.00 248.55,163.13 248.90,180.00 249.25,187.18 249.60,199.10 249.90,182.24 250.20,160.00 250.50,151.25 250.80,137.05 251.10,130.50 251.50,190.30 251.77,177.38 252.03,169.21 252.30,155.00 252.55,172.21 252.80,185.00 253.10,179.85 253.40,177.60 253.70,164.35 254.00,157.50 254.30,168.15 254.60,178.00 254.90,171.65 255.20,162.00 255.50,168.24 255.80,175.00 256.10,167.60 256.40,162.20 256.67,165.95 256.93,169.79 257.20,172.00 257.50,167.82 257.80,163.83 258.10,161.00 258.45,167.48 258.80,173.26 259.13,171.05 259.47,167.23 259.80,165.98 260.14,162.90 260.45,166.35 260.76,167.71 261.07,171.29 261.40,169.76 261.74,169.16 262.07,166.95 262.40,165.60 262.72,166.36 263.04,168.60 263.37,170.55 263.69,171.43 263.96,169.87 264.23,167.91 264.50,167.26 264.77,165.49 265.09,167.26 265.42,168.04 265.74,169.84 266.00,168.31 266.27,168.09 266.54,167.01 266.81,165.57 267.09,166.41 267.37,167.56 267.65,169.44 267.94,170.34 268.26,169.68 268.58,167.70 268.89,166.94 269.21,165.85 269.49,166.91 269.77,167.11 270.05,167.23 270.33,167.88 270.61,168.88 270.90,168.34 271.20,167.28 271.50,166.17 271.78,166.63 272.05,167.47 272.33,168.49 272.61,168.32 272.88,167.90 273.16,166.94 273.44,166.49 273.71,166.50 273.98,167.22 274.25,168.14 274.52,168.45 274.79,168.63 275.07,167.84 275.34,167.25 275.62,167.27 275.90,166.65 276.21,167.39 276.53,167.34 276.84,168.05 277.15,167.40 277.46,167.40 277.76,166.66 278.07,167.39 278.37,167.37 278.68,168.07 278.95,167.33 279.22,167.41 279.48,166.69 279.78,167.30 280.08,167.11 280.38,167.89 280.71,167.54 281.04,167.77 281.37,167.04 281.70,166.88 282.03,166.83 282.36,167.73 282.69,167.55 283.01,167.82 283.32,167.25 283.63,167.23 283.95,167.59 284.26,167.03 284.54,167.49 284.82,167.10 285.10,167.29 285.38,167.66 285.71,167.79 286.04,167.37 286.37,166.73 286.70,166.91 286.99,166.99 287.28,167.58 287.57,167.19 287.86,167.48 288.21,166.93 288.55,167.30 288.90,166.86 289.19,167.51 289.49,167.17 289.79,167.62 290.13,167.14 290.47,167.38 290.81,166.65 291.10,166.83 291.39,166.68 291.68,167.27 291.97,167.51 292.26,167.69 292.56,167.14 292.86,166.54 293.15,166.66 293.45,166.64 293.74,167.39 294.04,167.42 294.36,167.58 294.67,166.91 294.99,166.68 295.27,166.56 295.56,167.26 295.84,167.50 296.15,167.59 296.46,166.89 296.77,166.57 297.10,166.47 297.43,167.29 297.75,167.43 298.05,167.53 298.35,166.70 298.65,166.61 298.95,166.64 299.21,167.14 299.47,167.05 299.74,166.65 300.00,167.14 300.29,166.74 300.57,167.22 300.86,167.14 301.15,166.39 301.44,166.58 301.72,166.56 302.00,166.98 302.28,167.04 302.56,166.49 302.84,166.95 303.13,166.65 303.42,167.20 303.71,167.03 304.00,166.31 304.29,166.34 304.58,166.56 304.87,166.90 305.15,167.25 305.44,167.06 305.73,167.12 306.03,166.59 306.33,167.03 306.63,167.20 306.94,166.77 307.24,166.56 307.56,166.26 307.89,166.66 308.22,167.31 308.54,167.01 308.84,167.08 309.14,166.45 309.43,166.63 309.73,166.69 310.02,167.04 310.30,167.12 310.58,166.66 310.87,166.50 311.15,166.87 311.43,167.02 311.72,167.34 312.01,166.82 312.30,166.41 312.58,166.93 312.87,166.62 313.19,167.01 313.51,166.59 313.83,166.47 314.15,167.16 314.47,166.91 314.80,166.95 315.12,166.42 315.45,166.71 315.77,166.69 316.04,167.15 316.32,167.23 316.59,166.82 316.87,167.14 317.17,166.76 317.48,167.19 317.78,167.08 318.09,166.29 318.39,166.59 318.68,166.74 318.96,167.22 319.25,167.05 319.53,166.62 319.81,167.12 320.13,167.00 320.45,167.24 320.77,166.46 321.09,166.55 321.40,166.25 321.71,166.82 322.02,167.23 322.33,167.09 322.64,166.99 322.92,166.54 323.20,166.63 323.49,167.04 323.77,166.73 324.05,166.51 324.34,166.21 324.63,166.39 324.91,167.11 325.20,166.94 325.49,166.48 325.78,166.94 326.07,166.64 326.36,167.06 326.65,167.23 326.94,166.87 327.23,166.35 327.53,166.69 327.85,166.61 328.17,167.26 328.49,167.09 328.81,166.61 329.13,167.10 329.40,167.05 329.68,167.24 329.96,166.60 330.24,166.59 330.51,166.23 330.79,166.73 331.06,167.16 331.34,166.91 331.61,166.44 331.89,166.91 332.19,166.96 332.49,167.16 332.79,166.77 333.09,166.16 333.39,166.50 333.67,166.56 333.96,167.08 334.24,167.09 334.52,166.58 334.80,167.08 335.10,166.88 335.39,167.19 335.69,167.13 335.98,166.65 336.31,166.49 336.63,166.53 336.95,167.28 337.27,166.95 337.64,166.71 338.00,166.80" fill="none" stroke="#2b2f8e" stroke-width="0.95" stroke-linejoin="round" opacity="1"/>
<polyline points="392.00,307.00 392.00,308.39 392.24,307.19 392.48,305.68 392.82,308.25 393.11,307.05 393.40,305.95 393.74,308.56 393.99,307.22 394.24,306.17 394.49,307.47 394.74,308.59 395.11,305.54 395.36,306.80 395.61,307.85 395.98,305.44 396.18,306.63 396.38,308.06 396.63,306.94 396.88,305.94 397.19,307.89 397.41,306.91 397.63,305.63 397.87,306.94 398.11,308.05 398.48,305.61 398.84,308.33 399.07,306.99 399.29,305.83 399.50,306.69 399.71,307.83 400.07,305.74 400.27,306.65 400.46,307.65 400.83,305.48 401.08,306.95 401.34,308.20 401.55,306.99 401.76,305.57 401.95,306.80 402.15,308.25 402.46,305.74 402.75,307.00 403.04,308.32 403.38,305.79 403.58,307.28 403.78,308.52 404.10,306.35 404.44,307.97 404.72,306.94 404.99,305.82 405.24,306.57 405.49,307.68 405.85,305.99 406.09,307.02 406.33,308.36 406.57,308.17 406.80,307.26 407.03,305.18 407.27,305.92 407.50,305.00 407.73,308.01 407.95,308.22 408.17,309.80 408.40,312.70 408.62,311.21 408.85,309.42 409.07,305.07 409.30,303.00 409.52,302.64 409.75,306.17 409.98,310.25 410.20,310.00 410.44,306.84 410.68,300.81 410.92,297.61 411.16,296.86 411.40,292.80 411.67,301.80 411.95,305.59 412.23,312.14 412.50,322.20 412.77,315.09 413.05,306.74 413.33,292.86 413.60,287.10 413.84,293.26 414.08,309.26 414.32,315.24 414.56,318.35 414.80,332.40 415.07,318.18 415.35,315.49 415.62,299.79 415.90,288.20 416.13,301.99 416.37,321.96 416.60,344.80 416.83,327.13 417.05,305.00 417.27,275.06 417.50,257.70 417.73,273.82 417.97,302.64 418.20,320.00 418.50,301.06 418.80,272.40 419.05,288.92 419.30,300.47 419.55,322.48 419.80,339.20 420.02,330.81 420.25,312.47 420.48,292.24 420.70,283.70 420.93,280.78 421.15,283.62 421.38,280.83 421.60,276.90 421.83,287.79 422.05,298.03 422.27,312.85 422.50,326.70 422.73,319.89 422.95,310.28 423.17,296.05 423.40,289.40 423.62,294.88 423.85,307.43 424.07,314.96 424.30,320.00 424.53,307.30 424.77,298.30 425.00,290.50 425.27,304.50 425.55,313.44 425.83,320.22 426.10,334.60 426.38,323.15 426.65,315.22 426.93,299.56 427.20,289.40 427.44,292.00 427.68,301.86 427.92,309.31 428.16,310.09 428.40,317.70 428.67,309.94 428.95,310.89 429.23,304.64 429.50,299.50 429.77,303.45 430.05,312.25 430.33,320.05 430.60,324.40 430.84,319.28 431.08,314.42 431.32,313.63 431.56,311.01 431.80,305.20 432.07,307.41 432.35,309.84 432.62,317.13 432.90,318.80 433.17,315.53 433.45,308.32 433.73,303.17 434.00,300.70 434.27,300.96 434.55,301.47 434.83,297.26 435.10,298.40 435.34,301.93 435.58,310.06 435.82,316.15 436.06,318.40 436.30,324.40 436.57,317.34 436.85,315.88 437.12,309.99 437.40,304.00 437.67,304.60 437.95,311.20 438.23,314.11 438.50,315.40 438.74,309.59 438.98,306.55 439.22,306.68 439.46,301.69 439.70,297.30 439.98,300.82 440.25,307.80 440.52,314.10 440.80,317.70 441.07,312.10 441.35,308.25 441.62,306.49 441.90,300.70 442.14,303.27 442.38,302.04 442.62,305.36 442.86,311.16 443.10,310.90 443.38,310.70 443.65,303.20 443.93,299.48 444.20,298.40 444.48,296.54 444.75,291.32 445.02,282.17 445.30,279.20 445.54,284.05 445.78,294.96 446.02,305.65 446.26,311.46 446.50,317.70 446.80,314.33 447.10,317.70 447.34,313.05 447.58,313.41 447.82,308.66 448.06,299.90 448.30,299.50 448.57,304.16 448.85,311.40 449.12,315.50 449.40,319.90 449.67,314.15 449.95,311.71 450.23,309.75 450.50,304.00 450.74,307.17 450.98,306.42 451.22,309.60 451.46,315.40 451.70,315.40 451.98,313.59 452.25,308.21 452.52,309.47 452.80,306.30 453.07,313.43 453.35,313.44 453.62,318.24 453.90,324.40 454.14,328.00 454.38,326.27 454.62,324.46 454.86,326.76 455.10,329.00 455.38,321.55 455.65,307.83 455.93,295.60 456.20,288.20 456.48,294.33 456.75,299.54 457.02,300.68 457.30,306.30 457.54,301.72 457.78,303.62 458.02,303.70 458.26,300.00 458.50,297.30 458.80,308.29 459.10,324.40 459.33,325.63 459.55,328.12 459.77,326.65 460.00,326.70 460.24,317.74 460.48,313.50 460.72,309.52 460.96,300.04 461.20,293.90 461.48,292.42 461.75,296.08 462.02,296.59 462.30,295.00 462.52,298.53 462.75,303.28 462.98,312.04 463.20,315.40 463.43,313.66 463.65,307.32 463.88,304.14 464.10,301.80 464.38,305.87 464.65,306.27 464.93,307.07 465.20,310.90 465.44,309.89 465.68,309.57 465.92,307.51 466.16,304.02 466.40,304.00 466.67,306.65 466.95,310.38 467.23,309.69 467.50,313.10 467.77,309.79 468.05,311.29 468.33,309.31 468.60,306.30 468.84,307.72 469.08,310.66 469.32,316.29 469.56,317.47 469.80,319.90 470.07,315.22 470.35,314.74 470.62,313.31 470.90,308.60 471.17,305.91 471.45,303.38 471.73,304.70 472.00,301.80 472.24,303.28 472.48,301.39 472.72,299.40 472.96,300.41 473.20,300.70 473.48,303.20 473.75,304.28 474.02,303.97 474.30,306.30 474.57,307.70 474.85,310.92 475.12,311.08 475.40,313.10 475.64,310.75 475.88,311.41 476.12,310.87 476.36,308.03 476.60,307.50 476.88,305.43 477.15,306.68 477.43,303.46 477.70,301.80 477.98,300.15 478.25,303.96 478.52,304.76 478.80,304.00 479.04,299.79 479.28,297.72 479.52,297.71 479.76,295.47 480.00,291.00 480.27,293.68 480.55,298.07 480.83,306.30 481.10,308.60 481.38,312.19 481.65,310.95 481.93,315.21 482.20,317.70 482.44,317.58 482.68,313.24 482.92,308.68 483.16,308.77 483.40,306.30 483.67,306.24 483.95,302.25 484.23,300.40 484.50,299.50 484.77,302.02 485.05,301.15 485.33,300.70 485.60,302.90 485.84,304.59 486.08,306.95 486.32,307.74 486.56,307.17 486.80,309.70 487.07,310.00 487.35,312.69 487.62,314.04 487.90,314.30 488.17,311.86 488.45,309.71 488.73,310.21 489.00,307.50 489.27,307.30 489.55,305.57 489.83,306.81 490.10,306.30 490.34,308.49 490.58,308.61 490.82,308.04 491.06,309.18 491.30,310.90 491.57,312.13 491.85,313.06 492.12,311.47 492.40,313.10 492.67,310.79 492.95,310.93 493.23,307.66 493.50,306.30 493.74,303.96 493.98,303.77 494.22,304.12 494.46,302.26 494.70,300.70 494.98,302.19 495.25,305.13 495.52,309.56 495.80,310.90 496.07,309.37 496.35,306.83 496.62,306.94 496.90,305.20 497.14,307.32 497.38,306.89 497.62,306.67 497.86,309.16 498.10,309.70 498.38,309.16 498.65,306.35 498.93,304.19 499.20,303.60 499.48,304.35 499.75,306.42 500.02,305.94 500.30,307.50 500.54,306.27 500.78,307.27 501.02,306.79 501.26,304.84 501.50,305.20 501.77,305.52 502.05,306.47 502.33,305.72 502.60,306.30 502.88,305.32 503.15,305.97 503.43,306.09 503.70,305.20 503.94,304.92 504.18,304.96 504.42,305.95 504.66,306.86 504.90,306.30" fill="none" stroke="#e4087f" stroke-width="0.7" stroke-linejoin="round" opacity="1"/>
<line x1="224.6" y1="99.6" x2="338.0" y2="99.6" stroke="#3c3c78" stroke-width="1.1"/>
<line x1="338.0" y1="6.6" x2="338.0" y2="99.6" stroke="#7c7cb0" stroke-width="1.1"/>
</svg></body></html>
